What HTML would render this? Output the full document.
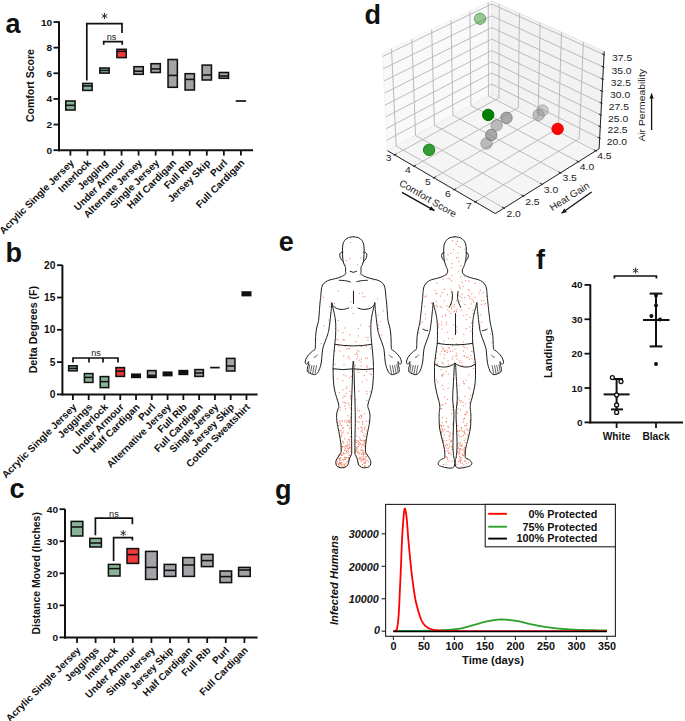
<!DOCTYPE html>
<html><head><meta charset="utf-8"><style>
html,body{margin:0;padding:0;background:#fff;}
svg{display:block;font-family:"Liberation Sans", sans-serif;}
</style></head><body>
<svg width="685" height="721" viewBox="0 0 685 721">
<rect width="685" height="721" fill="#fff"/>
<text x="5.5" y="33.2" font-size="27" font-weight="bold" text-anchor="start" fill="#111">a</text>
<line x1="59" y1="21.2" x2="59" y2="151.2" stroke="#111" stroke-width="2"/>
<line x1="58" y1="150.2" x2="253" y2="150.2" stroke="#111" stroke-width="2"/>
<line x1="53.5" y1="150.2" x2="59" y2="150.2" stroke="#111" stroke-width="1.8"/>
<text x="0" y="0" font-size="9.8" font-weight="bold" text-anchor="end" fill="#111" transform="translate(52.2 153.7) scale(1.03 1)">0</text>
<line x1="53.5" y1="124.56" x2="59" y2="124.56" stroke="#111" stroke-width="1.8"/>
<text x="0" y="0" font-size="9.8" font-weight="bold" text-anchor="end" fill="#111" transform="translate(52.2 128.06) scale(1.03 1)">2</text>
<line x1="53.5" y1="98.92" x2="59" y2="98.92" stroke="#111" stroke-width="1.8"/>
<text x="0" y="0" font-size="9.8" font-weight="bold" text-anchor="end" fill="#111" transform="translate(52.2 102.42) scale(1.03 1)">4</text>
<line x1="53.5" y1="73.28" x2="59" y2="73.28" stroke="#111" stroke-width="1.8"/>
<text x="0" y="0" font-size="9.8" font-weight="bold" text-anchor="end" fill="#111" transform="translate(52.2 76.78) scale(1.03 1)">6</text>
<line x1="53.5" y1="47.64" x2="59" y2="47.64" stroke="#111" stroke-width="1.8"/>
<text x="0" y="0" font-size="9.8" font-weight="bold" text-anchor="end" fill="#111" transform="translate(52.2 51.14) scale(1.03 1)">8</text>
<line x1="53.5" y1="22" x2="59" y2="22" stroke="#111" stroke-width="1.8"/>
<text x="0" y="0" font-size="9.8" font-weight="bold" text-anchor="end" fill="#111" transform="translate(52.2 25.5) scale(1.03 1)">10</text>
<text x="33.6" y="85.6" font-size="10.5" font-weight="bold" text-anchor="middle" fill="#111" transform="rotate(-90 33.6 85.6)">Comfort Score</text>
<line x1="70.4" y1="150" x2="70.4" y2="155.6" stroke="#111" stroke-width="1.8"/>
<text x="74.6" y="163.5" font-size="10" font-weight="bold" text-anchor="end" fill="#111" transform="rotate(-45 74.6 163.5)">Acrylic Single Jersey</text>
<line x1="87.45" y1="150" x2="87.45" y2="155.6" stroke="#111" stroke-width="1.8"/>
<text x="91.65" y="163.5" font-size="10" font-weight="bold" text-anchor="end" fill="#111" transform="rotate(-45 91.65 163.5)">Interlock</text>
<line x1="104.5" y1="150" x2="104.5" y2="155.6" stroke="#111" stroke-width="1.8"/>
<text x="108.7" y="163.5" font-size="10" font-weight="bold" text-anchor="end" fill="#111" transform="rotate(-45 108.7 163.5)">Jegging</text>
<line x1="121.55" y1="150" x2="121.55" y2="155.6" stroke="#111" stroke-width="1.8"/>
<text x="125.75" y="163.5" font-size="10" font-weight="bold" text-anchor="end" fill="#111" transform="rotate(-45 125.75 163.5)">Under Armour</text>
<line x1="138.6" y1="150" x2="138.6" y2="155.6" stroke="#111" stroke-width="1.8"/>
<text x="142.8" y="163.5" font-size="10" font-weight="bold" text-anchor="end" fill="#111" transform="rotate(-45 142.8 163.5)">Alternate Jersey</text>
<line x1="155.65" y1="150" x2="155.65" y2="155.6" stroke="#111" stroke-width="1.8"/>
<text x="159.85" y="163.5" font-size="10" font-weight="bold" text-anchor="end" fill="#111" transform="rotate(-45 159.85 163.5)">Single Jersey</text>
<line x1="172.7" y1="150" x2="172.7" y2="155.6" stroke="#111" stroke-width="1.8"/>
<text x="176.9" y="163.5" font-size="10" font-weight="bold" text-anchor="end" fill="#111" transform="rotate(-45 176.9 163.5)">Half Cardigan</text>
<line x1="189.75" y1="150" x2="189.75" y2="155.6" stroke="#111" stroke-width="1.8"/>
<text x="193.95" y="163.5" font-size="10" font-weight="bold" text-anchor="end" fill="#111" transform="rotate(-45 193.95 163.5)">Full Rib</text>
<line x1="206.8" y1="150" x2="206.8" y2="155.6" stroke="#111" stroke-width="1.8"/>
<text x="211" y="163.5" font-size="10" font-weight="bold" text-anchor="end" fill="#111" transform="rotate(-45 211 163.5)">Jersey Skip</text>
<line x1="223.85" y1="150" x2="223.85" y2="155.6" stroke="#111" stroke-width="1.8"/>
<text x="228.05" y="163.5" font-size="10" font-weight="bold" text-anchor="end" fill="#111" transform="rotate(-45 228.05 163.5)">Purl</text>
<line x1="240.9" y1="150" x2="240.9" y2="155.6" stroke="#111" stroke-width="1.8"/>
<text x="245.1" y="163.5" font-size="10" font-weight="bold" text-anchor="end" fill="#111" transform="rotate(-45 245.1 163.5)">Full Cardigan</text>
<rect x="65.75" y="101" width="9.3" height="9" fill="#89b396" stroke="#111" stroke-width="1.55"/>
<line x1="65.75" y1="105.3" x2="75.05" y2="105.3" stroke="#111" stroke-width="1.55"/>
<rect x="82.8" y="83.4" width="9.3" height="7" fill="#89b396" stroke="#111" stroke-width="1.55"/>
<line x1="82.8" y1="85.9" x2="92.1" y2="85.9" stroke="#111" stroke-width="1.55"/>
<rect x="99.85" y="68" width="9.3" height="5.1" fill="#89b396" stroke="#111" stroke-width="1.55"/>
<line x1="99.85" y1="70.4" x2="109.15" y2="70.4" stroke="#111" stroke-width="1.55"/>
<rect x="116.9" y="49.3" width="9.3" height="8.3" fill="#f33a3a" stroke="#111" stroke-width="1.55"/>
<line x1="116.9" y1="51.4" x2="126.2" y2="51.4" stroke="#111" stroke-width="1.55"/>
<rect x="133.95" y="66.7" width="9.3" height="7.6" fill="#a3a3a8" stroke="#111" stroke-width="1.55"/>
<line x1="133.95" y1="71.2" x2="143.25" y2="71.2" stroke="#111" stroke-width="1.55"/>
<rect x="151" y="63.7" width="9.3" height="8.8" fill="#a3a3a8" stroke="#111" stroke-width="1.55"/>
<line x1="151" y1="68.9" x2="160.3" y2="68.9" stroke="#111" stroke-width="1.55"/>
<rect x="168.05" y="59.5" width="9.3" height="27.8" fill="#a3a3a8" stroke="#111" stroke-width="1.55"/>
<line x1="168.05" y1="75.4" x2="177.35" y2="75.4" stroke="#111" stroke-width="1.55"/>
<rect x="185.1" y="73.7" width="9.3" height="16.3" fill="#a3a3a8" stroke="#111" stroke-width="1.55"/>
<line x1="185.1" y1="79.4" x2="194.4" y2="79.4" stroke="#111" stroke-width="1.55"/>
<rect x="202.15" y="65.1" width="9.3" height="14.9" fill="#a3a3a8" stroke="#111" stroke-width="1.55"/>
<line x1="202.15" y1="75" x2="211.45" y2="75" stroke="#111" stroke-width="1.55"/>
<rect x="219.2" y="72.5" width="9.3" height="5.8" fill="#a3a3a8" stroke="#111" stroke-width="1.55"/>
<line x1="219.2" y1="76" x2="228.5" y2="76" stroke="#111" stroke-width="1.55"/>
<line x1="235.7" y1="101" x2="246.1" y2="101" stroke="#111" stroke-width="1.7"/>
<polyline points="86.8,80.5 86.8,23.6 122,23.6 122,33" fill="none" stroke="#111" stroke-width="1.7"/>
<path d="M104.5,12.9L104.5,19.1M101.82,14.45L107.18,17.55M101.82,17.55L107.18,14.45" stroke="#333" stroke-width="1" fill="none"/>
<polyline points="103.7,44.7 103.7,41.6 122.2,41.6 122.2,44.7" fill="none" stroke="#111" stroke-width="1.7"/>
<text x="111.6" y="40" font-size="9.2" font-weight="normal" text-anchor="middle" fill="#222">ns</text>
<text x="5.5" y="262" font-size="27" font-weight="bold" text-anchor="start" fill="#111">b</text>
<line x1="62.4" y1="265" x2="62.4" y2="395.4" stroke="#111" stroke-width="2"/>
<line x1="61.4" y1="394.4" x2="257.6" y2="394.4" stroke="#111" stroke-width="2"/>
<line x1="57" y1="394.4" x2="62.4" y2="394.4" stroke="#111" stroke-width="1.8"/>
<text x="0" y="0" font-size="10" font-weight="bold" text-anchor="end" fill="#111" transform="translate(55.4 398) scale(1.02 1)">0</text>
<line x1="57" y1="362.1" x2="62.4" y2="362.1" stroke="#111" stroke-width="1.8"/>
<text x="0" y="0" font-size="10" font-weight="bold" text-anchor="end" fill="#111" transform="translate(55.4 365.7) scale(1.02 1)">5</text>
<line x1="57" y1="329.8" x2="62.4" y2="329.8" stroke="#111" stroke-width="1.8"/>
<text x="0" y="0" font-size="10" font-weight="bold" text-anchor="end" fill="#111" transform="translate(55.4 333.4) scale(1.02 1)">10</text>
<line x1="57" y1="297.5" x2="62.4" y2="297.5" stroke="#111" stroke-width="1.8"/>
<text x="0" y="0" font-size="10" font-weight="bold" text-anchor="end" fill="#111" transform="translate(55.4 301.1) scale(1.02 1)">15</text>
<line x1="57" y1="265.2" x2="62.4" y2="265.2" stroke="#111" stroke-width="1.8"/>
<text x="0" y="0" font-size="10" font-weight="bold" text-anchor="end" fill="#111" transform="translate(55.4 268.8) scale(1.02 1)">20</text>
<text x="37.5" y="329.6" font-size="10.65" font-weight="bold" text-anchor="middle" fill="#111" transform="rotate(-90 37.5 329.6)">Delta Degrees (F)</text>
<line x1="72.9" y1="394" x2="72.9" y2="400" stroke="#111" stroke-width="1.8"/>
<text x="77.1" y="407.6" font-size="10" font-weight="bold" text-anchor="end" fill="#111" transform="rotate(-45 77.1 407.6)">Acrylic Single Jersey</text>
<line x1="88.68" y1="394" x2="88.68" y2="400" stroke="#111" stroke-width="1.8"/>
<text x="92.88" y="407.6" font-size="10" font-weight="bold" text-anchor="end" fill="#111" transform="rotate(-45 92.88 407.6)">Jeggings</text>
<line x1="104.46" y1="394" x2="104.46" y2="400" stroke="#111" stroke-width="1.8"/>
<text x="108.66" y="407.6" font-size="10" font-weight="bold" text-anchor="end" fill="#111" transform="rotate(-45 108.66 407.6)">Interlock</text>
<line x1="120.24" y1="394" x2="120.24" y2="400" stroke="#111" stroke-width="1.8"/>
<text x="124.44" y="407.6" font-size="10" font-weight="bold" text-anchor="end" fill="#111" transform="rotate(-45 124.44 407.6)">Under Armour</text>
<line x1="136.02" y1="394" x2="136.02" y2="400" stroke="#111" stroke-width="1.8"/>
<text x="140.22" y="407.6" font-size="10" font-weight="bold" text-anchor="end" fill="#111" transform="rotate(-45 140.22 407.6)">Half Cardigan</text>
<line x1="151.8" y1="394" x2="151.8" y2="400" stroke="#111" stroke-width="1.8"/>
<text x="156" y="407.6" font-size="10" font-weight="bold" text-anchor="end" fill="#111" transform="rotate(-45 156 407.6)">Purl</text>
<line x1="167.58" y1="394" x2="167.58" y2="400" stroke="#111" stroke-width="1.8"/>
<text x="171.78" y="407.6" font-size="10" font-weight="bold" text-anchor="end" fill="#111" transform="rotate(-45 171.78 407.6)">Alternative Jersey</text>
<line x1="183.36" y1="394" x2="183.36" y2="400" stroke="#111" stroke-width="1.8"/>
<text x="187.56" y="407.6" font-size="10" font-weight="bold" text-anchor="end" fill="#111" transform="rotate(-45 187.56 407.6)">Full Rib</text>
<line x1="199.14" y1="394" x2="199.14" y2="400" stroke="#111" stroke-width="1.8"/>
<text x="203.34" y="407.6" font-size="10" font-weight="bold" text-anchor="end" fill="#111" transform="rotate(-45 203.34 407.6)">Full Cardigan</text>
<line x1="214.92" y1="394" x2="214.92" y2="400" stroke="#111" stroke-width="1.8"/>
<text x="219.12" y="407.6" font-size="10" font-weight="bold" text-anchor="end" fill="#111" transform="rotate(-45 219.12 407.6)">Single Jersey</text>
<line x1="230.7" y1="394" x2="230.7" y2="400" stroke="#111" stroke-width="1.8"/>
<text x="234.9" y="407.6" font-size="10" font-weight="bold" text-anchor="end" fill="#111" transform="rotate(-45 234.9 407.6)">Jersey Skip</text>
<line x1="246.48" y1="394" x2="246.48" y2="400" stroke="#111" stroke-width="1.8"/>
<text x="250.68" y="407.6" font-size="10" font-weight="bold" text-anchor="end" fill="#111" transform="rotate(-45 250.68 407.6)">Cotton Sweatshirt</text>
<rect x="68.65" y="365.8" width="8.5" height="5" fill="#89b396" stroke="#111" stroke-width="1.55"/>
<line x1="68.65" y1="368.4" x2="77.15" y2="368.4" stroke="#111" stroke-width="1.55"/>
<rect x="84.43" y="373.6" width="8.5" height="8.8" fill="#89b396" stroke="#111" stroke-width="1.55"/>
<line x1="84.43" y1="377.4" x2="92.93" y2="377.4" stroke="#111" stroke-width="1.55"/>
<rect x="100.21" y="376.6" width="8.5" height="11" fill="#89b396" stroke="#111" stroke-width="1.55"/>
<line x1="100.21" y1="381.6" x2="108.71" y2="381.6" stroke="#111" stroke-width="1.55"/>
<rect x="115.99" y="367.6" width="8.5" height="8.8" fill="#f33a3a" stroke="#111" stroke-width="1.55"/>
<line x1="115.99" y1="371.2" x2="124.49" y2="371.2" stroke="#111" stroke-width="1.55"/>
<rect x="131.77" y="374.2" width="8.5" height="3.2" fill="#111" stroke="#111" stroke-width="1.55"/>
<rect x="147.55" y="370.6" width="8.5" height="6.8" fill="#a3a3a8" stroke="#111" stroke-width="1.55"/>
<line x1="147.55" y1="375.4" x2="156.05" y2="375.4" stroke="#111" stroke-width="1.55"/>
<line x1="147.55" y1="376.2" x2="156.05" y2="376.2" stroke="#111" stroke-width="2.2"/>
<rect x="163.33" y="372.2" width="8.5" height="3.4" fill="#111" stroke="#111" stroke-width="1.55"/>
<rect x="179.11" y="370.6" width="8.5" height="3.8" fill="#111" stroke="#111" stroke-width="1.55"/>
<rect x="194.89" y="369.6" width="8.5" height="6.8" fill="#a3a3a8" stroke="#111" stroke-width="1.55"/>
<line x1="194.89" y1="373" x2="203.39" y2="373" stroke="#111" stroke-width="1.55"/>
<rect x="226.45" y="358.4" width="8.5" height="12.6" fill="#a3a3a8" stroke="#111" stroke-width="1.55"/>
<line x1="226.45" y1="366" x2="234.95" y2="366" stroke="#111" stroke-width="1.55"/>
<rect x="242.23" y="292" width="8.5" height="3.6" fill="#111" stroke="#111" stroke-width="1.55"/>
<line x1="210.12" y1="367.6" x2="219.72" y2="367.6" stroke="#111" stroke-width="1.7"/>
<polyline points="73,362.6 73,358 118,358 118,362.6" fill="none" stroke="#111" stroke-width="1.7"/>
<line x1="89" y1="358" x2="89" y2="362.6" stroke="#111" stroke-width="1.7"/>
<line x1="103" y1="358" x2="103" y2="362.6" stroke="#111" stroke-width="1.7"/>
<text x="96" y="356" font-size="9.2" font-weight="normal" text-anchor="middle" fill="#222">ns</text>
<text x="9.5" y="498" font-size="27" font-weight="bold" text-anchor="start" fill="#111">c</text>
<line x1="65" y1="509" x2="65" y2="638.4" stroke="#111" stroke-width="2"/>
<line x1="64" y1="637.4" x2="257.6" y2="637.4" stroke="#111" stroke-width="2"/>
<line x1="59.5" y1="637.4" x2="65" y2="637.4" stroke="#111" stroke-width="1.8"/>
<text x="0" y="0" font-size="9.8" font-weight="bold" text-anchor="end" fill="#111" transform="translate(58 640.9) scale(1.03 1)">0</text>
<line x1="59.5" y1="605.35" x2="65" y2="605.35" stroke="#111" stroke-width="1.8"/>
<text x="0" y="0" font-size="9.8" font-weight="bold" text-anchor="end" fill="#111" transform="translate(58 608.85) scale(1.03 1)">10</text>
<line x1="59.5" y1="573.3" x2="65" y2="573.3" stroke="#111" stroke-width="1.8"/>
<text x="0" y="0" font-size="9.8" font-weight="bold" text-anchor="end" fill="#111" transform="translate(58 576.8) scale(1.03 1)">20</text>
<line x1="59.5" y1="541.25" x2="65" y2="541.25" stroke="#111" stroke-width="1.8"/>
<text x="0" y="0" font-size="9.8" font-weight="bold" text-anchor="end" fill="#111" transform="translate(58 544.75) scale(1.03 1)">30</text>
<line x1="59.5" y1="509.2" x2="65" y2="509.2" stroke="#111" stroke-width="1.8"/>
<text x="0" y="0" font-size="9.8" font-weight="bold" text-anchor="end" fill="#111" transform="translate(58 512.7) scale(1.03 1)">40</text>
<text x="39.8" y="573.3" font-size="10.45" font-weight="bold" text-anchor="middle" fill="#111" transform="rotate(-90 39.8 573.3)">Distance Moved (Inches)</text>
<line x1="77" y1="637" x2="77" y2="643" stroke="#111" stroke-width="1.8"/>
<text x="81.2" y="651" font-size="10" font-weight="bold" text-anchor="end" fill="#111" transform="rotate(-45 81.2 651)">Acrylic Single Jersey</text>
<line x1="95.6" y1="637" x2="95.6" y2="643" stroke="#111" stroke-width="1.8"/>
<text x="99.8" y="651" font-size="10" font-weight="bold" text-anchor="end" fill="#111" transform="rotate(-45 99.8 651)">Jeggings</text>
<line x1="114.2" y1="637" x2="114.2" y2="643" stroke="#111" stroke-width="1.8"/>
<text x="118.4" y="651" font-size="10" font-weight="bold" text-anchor="end" fill="#111" transform="rotate(-45 118.4 651)">Interlock</text>
<line x1="132.8" y1="637" x2="132.8" y2="643" stroke="#111" stroke-width="1.8"/>
<text x="137" y="651" font-size="10" font-weight="bold" text-anchor="end" fill="#111" transform="rotate(-45 137 651)">Under Armour</text>
<line x1="151.4" y1="637" x2="151.4" y2="643" stroke="#111" stroke-width="1.8"/>
<text x="155.6" y="651" font-size="10" font-weight="bold" text-anchor="end" fill="#111" transform="rotate(-45 155.6 651)">Single Jersey</text>
<line x1="170" y1="637" x2="170" y2="643" stroke="#111" stroke-width="1.8"/>
<text x="174.2" y="651" font-size="10" font-weight="bold" text-anchor="end" fill="#111" transform="rotate(-45 174.2 651)">Jersey Skip</text>
<line x1="188.6" y1="637" x2="188.6" y2="643" stroke="#111" stroke-width="1.8"/>
<text x="192.8" y="651" font-size="10" font-weight="bold" text-anchor="end" fill="#111" transform="rotate(-45 192.8 651)">Half Cardigan</text>
<line x1="207.2" y1="637" x2="207.2" y2="643" stroke="#111" stroke-width="1.8"/>
<text x="211.4" y="651" font-size="10" font-weight="bold" text-anchor="end" fill="#111" transform="rotate(-45 211.4 651)">Full Rib</text>
<line x1="225.8" y1="637" x2="225.8" y2="643" stroke="#111" stroke-width="1.8"/>
<text x="230" y="651" font-size="10" font-weight="bold" text-anchor="end" fill="#111" transform="rotate(-45 230 651)">Purl</text>
<line x1="244.4" y1="637" x2="244.4" y2="643" stroke="#111" stroke-width="1.8"/>
<text x="248.6" y="651" font-size="10" font-weight="bold" text-anchor="end" fill="#111" transform="rotate(-45 248.6 651)">Full Cardigan</text>
<rect x="71.2" y="521.4" width="11.6" height="14.6" fill="#89b396" stroke="#111" stroke-width="1.55"/>
<line x1="71.2" y1="527" x2="82.8" y2="527" stroke="#111" stroke-width="1.55"/>
<rect x="89.8" y="538.4" width="11.6" height="8.6" fill="#89b396" stroke="#111" stroke-width="1.55"/>
<line x1="89.8" y1="543" x2="101.4" y2="543" stroke="#111" stroke-width="1.55"/>
<rect x="108.4" y="564.4" width="11.6" height="11.6" fill="#89b396" stroke="#111" stroke-width="1.55"/>
<line x1="108.4" y1="568.6" x2="120" y2="568.6" stroke="#111" stroke-width="1.55"/>
<rect x="127" y="548.6" width="11.6" height="14.8" fill="#f33a3a" stroke="#111" stroke-width="1.55"/>
<line x1="127" y1="554.6" x2="138.6" y2="554.6" stroke="#111" stroke-width="1.55"/>
<rect x="145.6" y="551.4" width="11.6" height="28" fill="#a3a3a8" stroke="#111" stroke-width="1.55"/>
<line x1="145.6" y1="567.4" x2="157.2" y2="567.4" stroke="#111" stroke-width="1.55"/>
<rect x="164.2" y="564.4" width="11.6" height="12" fill="#a3a3a8" stroke="#111" stroke-width="1.55"/>
<line x1="164.2" y1="570.4" x2="175.8" y2="570.4" stroke="#111" stroke-width="1.55"/>
<rect x="182.8" y="557.6" width="11.6" height="18.8" fill="#a3a3a8" stroke="#111" stroke-width="1.55"/>
<line x1="182.8" y1="565" x2="194.4" y2="565" stroke="#111" stroke-width="1.55"/>
<rect x="201.4" y="554.4" width="11.6" height="12.2" fill="#a3a3a8" stroke="#111" stroke-width="1.55"/>
<line x1="201.4" y1="560.6" x2="213" y2="560.6" stroke="#111" stroke-width="1.55"/>
<rect x="220" y="571" width="11.6" height="11.6" fill="#a3a3a8" stroke="#111" stroke-width="1.55"/>
<line x1="220" y1="576.6" x2="231.6" y2="576.6" stroke="#111" stroke-width="1.55"/>
<rect x="238.6" y="567.4" width="11.6" height="9" fill="#a3a3a8" stroke="#111" stroke-width="1.55"/>
<line x1="238.6" y1="570" x2="250.2" y2="570" stroke="#111" stroke-width="1.55"/>
<polyline points="95.4,535.2 95.4,518.1 132.4,518.1 132.4,524.2" fill="none" stroke="#111" stroke-width="1.7"/>
<text x="113.9" y="517.2" font-size="9.2" font-weight="normal" text-anchor="middle" fill="#222">ns</text>
<polyline points="113.6,561 113.6,537.6 132.4,537.6 132.4,540.4" fill="none" stroke="#111" stroke-width="1.7"/>
<path d="M123.2,530.1L123.2,536.3M120.52,531.65L125.88,534.75M120.52,534.75L125.88,531.65" stroke="#333" stroke-width="1" fill="none"/>
<text x="364.5" y="24.2" font-size="27" font-weight="bold" text-anchor="start" fill="#111">d</text>
<polygon points="387.48,150.71 491.8,94.24 491.73,0.87 382.34,53.13" fill="#f9f9f9" stroke="#f2f2f2" stroke-width="1"/>
<polygon points="491.8,94.24 599.1,148.77 604.22,51.33 491.73,0.87" fill="#f2f2f2" stroke="#e6e6e6" stroke-width="1"/>
<polygon points="387.48,150.71 495.27,213.56 599.1,148.77 491.8,94.24" fill="#f5f5f5" stroke="#ececec" stroke-width="1"/>
<polyline points="394.63,154.88 498.95,97.88 499.21,4.23" fill="none" stroke="#b4b4b4" stroke-width="0.9"/>
<polyline points="413.99,166.17 518.29,107.7 519.43,13.3" fill="none" stroke="#b4b4b4" stroke-width="0.9"/>
<polyline points="433.86,177.76 538.1,117.77 540.18,22.61" fill="none" stroke="#b4b4b4" stroke-width="0.9"/>
<polyline points="454.28,189.66 558.42,128.1 561.49,32.16" fill="none" stroke="#b4b4b4" stroke-width="0.9"/>
<polyline points="475.25,201.89 579.25,138.69 583.36,41.97" fill="none" stroke="#b4b4b4" stroke-width="0.9"/>
<polyline points="503.96,208.14 396.17,146 391.49,48.76" fill="none" stroke="#b4b4b4" stroke-width="0.9"/>
<polyline points="523.31,196.07 415.55,135.52 411.84,39.04" fill="none" stroke="#b4b4b4" stroke-width="0.9"/>
<polyline points="542.15,184.31 434.45,125.28 431.68,29.56" fill="none" stroke="#b4b4b4" stroke-width="0.9"/>
<polyline points="560.5,172.86 452.89,115.3 451.02,20.32" fill="none" stroke="#b4b4b4" stroke-width="0.9"/>
<polyline points="578.38,161.7 470.9,105.55 469.87,11.31" fill="none" stroke="#b4b4b4" stroke-width="0.9"/>
<polyline points="595.82,150.83 488.48,96.04 488.26,2.53" fill="none" stroke="#b4b4b4" stroke-width="0.9"/>
<polyline points="386.92,140.14 491.79,84.1 599.66,138.22" fill="none" stroke="#b4b4b4" stroke-width="0.9"/>
<polyline points="386.31,128.6 491.78,73.03 600.26,126.69" fill="none" stroke="#b4b4b4" stroke-width="0.9"/>
<polyline points="385.7,116.92 491.77,61.84 600.87,115.03" fill="none" stroke="#b4b4b4" stroke-width="0.9"/>
<polyline points="385.08,105.11 491.76,50.54 601.49,103.24" fill="none" stroke="#b4b4b4" stroke-width="0.9"/>
<polyline points="384.45,93.16 491.76,39.1 602.12,91.31" fill="none" stroke="#b4b4b4" stroke-width="0.9"/>
<polyline points="383.81,81.08 491.75,27.55 602.75,79.24" fill="none" stroke="#b4b4b4" stroke-width="0.9"/>
<polyline points="383.17,68.85 491.74,15.87 603.39,67.02" fill="none" stroke="#b4b4b4" stroke-width="0.9"/>
<polyline points="382.52,56.47 491.73,4.06 604.04,54.67" fill="none" stroke="#b4b4b4" stroke-width="0.9"/>
<polyline points="387.48,150.71 495.27,213.56 599.1,148.77 604.22,51.33" fill="none" stroke="#222" stroke-width="1"/>
<polyline points="393.7,155.39 396.5,153.87" fill="none" stroke="#222" stroke-width="1"/>
<polyline points="413.06,166.69 415.85,165.13" fill="none" stroke="#222" stroke-width="1"/>
<polyline points="432.93,178.3 435.73,176.69" fill="none" stroke="#222" stroke-width="1"/>
<polyline points="453.34,190.21 456.14,188.56" fill="none" stroke="#222" stroke-width="1"/>
<polyline points="474.32,202.46 477.11,200.76" fill="none" stroke="#222" stroke-width="1"/>
<polyline points="504.93,208.69 502.04,207.03" fill="none" stroke="#222" stroke-width="1"/>
<polyline points="524.27,196.61 521.38,194.99" fill="none" stroke="#222" stroke-width="1"/>
<polyline points="543.11,184.84 540.23,183.26" fill="none" stroke="#222" stroke-width="1"/>
<polyline points="561.46,173.37 558.58,171.84" fill="none" stroke="#222" stroke-width="1"/>
<polyline points="579.34,162.2 576.47,160.7" fill="none" stroke="#222" stroke-width="1"/>
<polyline points="596.77,151.31 593.91,149.85" fill="none" stroke="#222" stroke-width="1"/>
<polyline points="600.62,138.7 597.74,137.26" fill="none" stroke="#222" stroke-width="1"/>
<polyline points="601.23,127.17 598.33,125.74" fill="none" stroke="#222" stroke-width="1"/>
<polyline points="601.85,115.51 598.93,114.09" fill="none" stroke="#222" stroke-width="1"/>
<polyline points="602.47,103.71 599.54,102.3" fill="none" stroke="#222" stroke-width="1"/>
<polyline points="603.1,91.77 600.15,90.38" fill="none" stroke="#222" stroke-width="1"/>
<polyline points="603.74,79.7 600.77,78.32" fill="none" stroke="#222" stroke-width="1"/>
<polyline points="604.39,67.48 601.4,66.11" fill="none" stroke="#222" stroke-width="1"/>
<polyline points="605.05,55.12 602.04,53.77" fill="none" stroke="#222" stroke-width="1"/>
<text x="0" y="0" font-size="9.7" font-weight="normal" text-anchor="middle" fill="#222" transform="translate(388.6 161.3) scale(1.07 1)">3</text>
<text x="0" y="0" font-size="9.7" font-weight="normal" text-anchor="middle" fill="#222" transform="translate(408 172.8) scale(1.07 1)">4</text>
<text x="0" y="0" font-size="9.7" font-weight="normal" text-anchor="middle" fill="#222" transform="translate(428 184.8) scale(1.07 1)">5</text>
<text x="0" y="0" font-size="9.7" font-weight="normal" text-anchor="middle" fill="#222" transform="translate(448 196.8) scale(1.07 1)">6</text>
<text x="0" y="0" font-size="9.7" font-weight="normal" text-anchor="middle" fill="#222" transform="translate(469 208.8) scale(1.07 1)">7</text>
<text x="0" y="0" font-size="9.7" font-weight="normal" text-anchor="middle" fill="#222" transform="translate(513.6 216.9) scale(1.07 1)">2.0</text>
<text x="0" y="0" font-size="9.7" font-weight="normal" text-anchor="middle" fill="#222" transform="translate(532.4 205.3) scale(1.07 1)">2.5</text>
<text x="0" y="0" font-size="9.7" font-weight="normal" text-anchor="middle" fill="#222" transform="translate(551 193.3) scale(1.07 1)">3.0</text>
<text x="0" y="0" font-size="9.7" font-weight="normal" text-anchor="middle" fill="#222" transform="translate(569.6 181.3) scale(1.07 1)">3.5</text>
<text x="0" y="0" font-size="9.7" font-weight="normal" text-anchor="middle" fill="#222" transform="translate(587 169.9) scale(1.07 1)">4.0</text>
<text x="0" y="0" font-size="9.7" font-weight="normal" text-anchor="middle" fill="#222" transform="translate(604.4 158.7) scale(1.07 1)">4.5</text>
<text x="0" y="0" font-size="9.7" font-weight="normal" text-anchor="start" fill="#222" transform="translate(612 61.3) scale(1.07 1)">37.5</text>
<text x="0" y="0" font-size="9.7" font-weight="normal" text-anchor="start" fill="#222" transform="translate(611.4 73.9) scale(1.07 1)">35.0</text>
<text x="0" y="0" font-size="9.7" font-weight="normal" text-anchor="start" fill="#222" transform="translate(610.8 85.9) scale(1.07 1)">32.5</text>
<text x="0" y="0" font-size="9.7" font-weight="normal" text-anchor="start" fill="#222" transform="translate(610 97.9) scale(1.07 1)">30.0</text>
<text x="0" y="0" font-size="9.7" font-weight="normal" text-anchor="start" fill="#222" transform="translate(608.8 109.9) scale(1.07 1)">27.5</text>
<text x="0" y="0" font-size="9.7" font-weight="normal" text-anchor="start" fill="#222" transform="translate(608 121.9) scale(1.07 1)">25.0</text>
<text x="0" y="0" font-size="9.7" font-weight="normal" text-anchor="start" fill="#222" transform="translate(607.4 133.3) scale(1.07 1)">22.5</text>
<text x="0" y="0" font-size="9.7" font-weight="normal" text-anchor="start" fill="#222" transform="translate(606.8 144.9) scale(1.07 1)">20.0</text>
<text x="0" y="0" font-size="9.7" font-weight="normal" text-anchor="middle" fill="#222" transform="translate(426.3 201.2) rotate(30.4) scale(1.03 1)">Comfort Score</text>
<text x="0" y="0" font-size="9.7" font-weight="normal" text-anchor="middle" fill="#222" transform="translate(571.2 199.3) rotate(-32.5) scale(1.03 1)">Heat Gain</text>
<text x="0" y="0" font-size="9.7" font-weight="normal" text-anchor="middle" fill="#222" transform="translate(644.8 105.3) rotate(-90) scale(1.07 1)">Air Permeability</text>
<line x1="402" y1="192.4" x2="434.5" y2="210.6" stroke="#111" stroke-width="1.3"/>
<polygon points="434.5,210.6 429.06,210.08 431.21,206.24" fill="#111" stroke="none" stroke-width="1"/>
<line x1="591.6" y1="192" x2="561.5" y2="213.3" stroke="#111" stroke-width="1.3"/>
<polygon points="561.5,213.3 564.31,208.62 566.85,212.21" fill="#111" stroke="none" stroke-width="1"/>
<line x1="651.6" y1="130" x2="651.6" y2="93.5" stroke="#111" stroke-width="1.3"/>
<polygon points="651.6,93.5 653.8,98.5 649.4,98.5" fill="#111" stroke="none" stroke-width="1"/>
<circle cx="480.05" cy="18.8" r="5.7" fill="#008000" fill-opacity="0.4" stroke="#008000" stroke-opacity="0.5" stroke-width="1"/>
<circle cx="542.6" cy="110.5" r="5.7" fill="#808080" fill-opacity="0.35" stroke="#808080" stroke-opacity="0.45" stroke-width="1"/>
<circle cx="538.6" cy="114.9" r="5.7" fill="#808080" fill-opacity="0.45" stroke="#808080" stroke-opacity="0.55" stroke-width="1"/>
<circle cx="506.5" cy="117.8" r="5.7" fill="#808080" fill-opacity="0.65" stroke="#707070" stroke-opacity="0.75" stroke-width="1"/>
<circle cx="488.2" cy="114.9" r="5.7" fill="#008000" fill-opacity="1.0" stroke="#007000" stroke-opacity="1.0" stroke-width="1"/>
<circle cx="496.6" cy="125.3" r="5.7" fill="#808080" fill-opacity="0.5" stroke="#808080" stroke-opacity="0.6" stroke-width="1"/>
<circle cx="491.2" cy="135" r="5.7" fill="#808080" fill-opacity="0.65" stroke="#707070" stroke-opacity="0.75" stroke-width="1"/>
<circle cx="486.5" cy="143.5" r="5.7" fill="#808080" fill-opacity="0.5" stroke="#808080" stroke-opacity="0.6" stroke-width="1"/>
<circle cx="557.6" cy="128.9" r="5.7" fill="#ff0000" fill-opacity="1.0" stroke="#ee0000" stroke-opacity="1.0" stroke-width="1"/>
<circle cx="429.1" cy="149.9" r="5.7" fill="#008000" fill-opacity="0.78" stroke="#008000" stroke-opacity="0.85" stroke-width="1"/>
<text x="278.7" y="250.8" font-size="27" font-weight="bold" text-anchor="start" fill="#111">e</text>
<rect x="350.25" y="242.08" width="1" height="1" fill="#f0704f"/>
<rect x="349.38" y="258.21" width="1" height="1" fill="#f0704f"/>
<rect x="360.41" y="257.7" width="1" height="1" fill="#f0704f"/>
<rect x="345.8" y="260" width="1" height="1" fill="#f0704f"/>
<rect x="345.23" y="264.39" width="1" height="1" fill="#f0704f"/>
<rect x="356.89" y="264.31" width="1" height="1" fill="#f0704f"/>
<rect x="359.67" y="274.23" width="1" height="1" fill="#f0704f"/>
<rect x="373.2" y="279.24" width="1" height="1" fill="#f0704f"/>
<rect x="349.78" y="282.12" width="1" height="1" fill="#f0704f"/>
<rect x="337.64" y="290.65" width="1" height="1" fill="#f0704f"/>
<rect x="358.87" y="293.04" width="1" height="1" fill="#f0704f"/>
<rect x="361.81" y="292.51" width="1" height="1" fill="#f0704f"/>
<rect x="352.59" y="295.61" width="1" height="1" fill="#f0704f"/>
<rect x="362.41" y="296.45" width="1" height="1" fill="#f0704f"/>
<rect x="364.65" y="296.06" width="1" height="1" fill="#f0704f"/>
<rect x="322.82" y="296.81" width="1" height="1" fill="#f0704f"/>
<rect x="377.02" y="298.52" width="1" height="1" fill="#f0704f"/>
<rect x="350.13" y="301.2" width="1" height="1" fill="#f0704f"/>
<rect x="333.85" y="302.99" width="1" height="1" fill="#f0704f"/>
<rect x="329.26" y="306.05" width="1" height="1" fill="#f0704f"/>
<rect x="351.39" y="307.23" width="1" height="1" fill="#f0704f"/>
<rect x="365.74" y="307.92" width="1" height="1" fill="#f0704f"/>
<rect x="382.74" y="310.38" width="1" height="1" fill="#f0704f"/>
<rect x="352.6" y="313.03" width="1" height="1" fill="#f0704f"/>
<rect x="377.66" y="314.68" width="1" height="1" fill="#f0704f"/>
<rect x="328.31" y="319.5" width="1" height="1" fill="#f0704f"/>
<rect x="337.56" y="319.84" width="1" height="1" fill="#f0704f"/>
<rect x="379.72" y="321.24" width="1" height="1" fill="#f0704f"/>
<rect x="323.73" y="325.39" width="1" height="1" fill="#f0704f"/>
<rect x="360.18" y="324.73" width="1" height="1" fill="#f0704f"/>
<rect x="378.2" y="324.53" width="1" height="1" fill="#f0704f"/>
<rect x="368.74" y="326.04" width="1" height="1" fill="#f0704f"/>
<rect x="344.51" y="327.48" width="1" height="1" fill="#f0704f"/>
<rect x="357.84" y="328.27" width="1" height="1" fill="#f0704f"/>
<rect x="378.27" y="328.03" width="1" height="1" fill="#f0704f"/>
<rect x="337.78" y="329.9" width="1" height="1" fill="#f0704f"/>
<rect x="342.53" y="332.04" width="1" height="1" fill="#f0704f"/>
<rect x="349.45" y="334.31" width="1" height="1" fill="#f0704f"/>
<rect x="357.92" y="335.41" width="1" height="1" fill="#f0704f"/>
<rect x="381.34" y="334.58" width="1" height="1" fill="#f0704f"/>
<rect x="365.67" y="337.09" width="1" height="1" fill="#f0704f"/>
<rect x="367.59" y="336.74" width="1" height="1" fill="#f0704f"/>
<rect x="335.63" y="338.53" width="1" height="1" fill="#f0704f"/>
<rect x="337.42" y="339.22" width="1" height="1" fill="#f0704f"/>
<rect x="343.19" y="339.13" width="1" height="1" fill="#f0704f"/>
<rect x="343.6" y="339.94" width="1" height="1" fill="#f0704f"/>
<rect x="367.33" y="340" width="1" height="1" fill="#f0704f"/>
<rect x="355.45" y="341" width="1" height="1" fill="#f0704f"/>
<rect x="320.8" y="343.11" width="1" height="1" fill="#f0704f"/>
<rect x="337.93" y="345.43" width="1" height="1" fill="#f0704f"/>
<rect x="344.74" y="345.78" width="1" height="1" fill="#f0704f"/>
<rect x="361" y="346.06" width="1" height="1" fill="#f0704f"/>
<rect x="365.49" y="345.84" width="1" height="1" fill="#f0704f"/>
<rect x="347.71" y="347.94" width="1" height="1" fill="#f0704f"/>
<rect x="349.09" y="348.25" width="1" height="1" fill="#f0704f"/>
<rect x="370.13" y="347.74" width="1" height="1" fill="#f0704f"/>
<rect x="345.97" y="348.83" width="1" height="1" fill="#f0704f"/>
<rect x="356.55" y="349.81" width="1" height="1" fill="#f0704f"/>
<rect x="334.19" y="350.55" width="1" height="1" fill="#f0704f"/>
<rect x="339.66" y="350.56" width="1" height="1" fill="#f0704f"/>
<rect x="358.26" y="350.72" width="1" height="1" fill="#f0704f"/>
<rect x="356.29" y="352.55" width="1" height="1" fill="#f0704f"/>
<rect x="354.55" y="353.96" width="1" height="1" fill="#f0704f"/>
<rect x="356.82" y="353.91" width="1" height="1" fill="#f0704f"/>
<rect x="343.19" y="355.73" width="1" height="1" fill="#f0704f"/>
<rect x="348.35" y="355.9" width="1" height="1" fill="#f0704f"/>
<rect x="357.32" y="356.34" width="1" height="1" fill="#f0704f"/>
<rect x="365.01" y="357.48" width="1" height="1" fill="#f0704f"/>
<rect x="347.23" y="357.5" width="1" height="1" fill="#f0704f"/>
<rect x="349.43" y="358.32" width="1" height="1" fill="#f0704f"/>
<rect x="356.32" y="358.4" width="1" height="1" fill="#f0704f"/>
<rect x="366.85" y="357.77" width="1" height="1" fill="#f0704f"/>
<rect x="360.89" y="358.54" width="1" height="1" fill="#f0704f"/>
<rect x="358.83" y="359.69" width="1" height="1" fill="#f0704f"/>
<rect x="360.54" y="361.37" width="1" height="1" fill="#f0704f"/>
<rect x="334.64" y="363.82" width="1" height="1" fill="#f0704f"/>
<rect x="343.54" y="364.43" width="1" height="1" fill="#f0704f"/>
<rect x="354.89" y="364.89" width="1" height="1" fill="#f0704f"/>
<rect x="360.59" y="365.49" width="1" height="1" fill="#f0704f"/>
<rect x="366.1" y="365.45" width="1" height="1" fill="#f0704f"/>
<rect x="366.76" y="366.56" width="1" height="1" fill="#f0704f"/>
<rect x="332.76" y="368.59" width="1" height="1" fill="#f0704f"/>
<rect x="369.28" y="369.06" width="1" height="1" fill="#f0704f"/>
<rect x="357.08" y="370.22" width="1" height="1" fill="#f0704f"/>
<rect x="366.08" y="370.84" width="1" height="1" fill="#f0704f"/>
<rect x="358.45" y="371.81" width="1" height="1" fill="#f0704f"/>
<rect x="369.73" y="373.43" width="1" height="1" fill="#f0704f"/>
<rect x="343.37" y="374.13" width="1" height="1" fill="#f0704f"/>
<rect x="370.95" y="374.1" width="1" height="1" fill="#f0704f"/>
<rect x="333.04" y="375.47" width="1" height="1" fill="#f0704f"/>
<rect x="345.39" y="375.45" width="1" height="1" fill="#f0704f"/>
<rect x="363.88" y="374.9" width="1" height="1" fill="#f0704f"/>
<rect x="350.85" y="375.92" width="1" height="1" fill="#f0704f"/>
<rect x="348.84" y="377.33" width="1" height="1" fill="#f0704f"/>
<rect x="337.16" y="378.16" width="1" height="1" fill="#f0704f"/>
<rect x="342.31" y="380.2" width="1" height="1" fill="#f0704f"/>
<rect x="366.19" y="379.5" width="1" height="1" fill="#f0704f"/>
<rect x="361.94" y="381.47" width="1" height="1" fill="#f0704f"/>
<rect x="346.55" y="386.33" width="1" height="1" fill="#f0704f"/>
<rect x="334.21" y="388.15" width="1" height="1" fill="#f0704f"/>
<rect x="345.74" y="388.1" width="1" height="1" fill="#f0704f"/>
<rect x="342.53" y="389.5" width="1" height="1" fill="#f0704f"/>
<rect x="349.28" y="391" width="1" height="1" fill="#f0704f"/>
<rect x="358.3" y="390.72" width="1" height="1" fill="#f0704f"/>
<rect x="366.12" y="390.93" width="1" height="1" fill="#f0704f"/>
<rect x="369.69" y="391.27" width="1" height="1" fill="#f0704f"/>
<rect x="339.09" y="392.1" width="1" height="1" fill="#f0704f"/>
<rect x="345.57" y="393.05" width="1" height="1" fill="#f0704f"/>
<rect x="366.86" y="393.21" width="1" height="1" fill="#f0704f"/>
<rect x="350.55" y="394.93" width="1" height="1" fill="#f0704f"/>
<rect x="343.46" y="395.76" width="1" height="1" fill="#f0704f"/>
<rect x="344.51" y="395.76" width="1" height="1" fill="#f0704f"/>
<rect x="350.11" y="395.55" width="1" height="1" fill="#f0704f"/>
<rect x="350.23" y="396.7" width="1" height="1" fill="#f0704f"/>
<rect x="342.38" y="397.57" width="1" height="1" fill="#f0704f"/>
<rect x="350.19" y="398.25" width="1" height="1" fill="#f0704f"/>
<rect x="336.87" y="399.18" width="1" height="1" fill="#f0704f"/>
<rect x="355.32" y="399.28" width="1" height="1" fill="#f0704f"/>
<rect x="366.52" y="400.01" width="1" height="1" fill="#f0704f"/>
<rect x="342.46" y="401.82" width="1" height="1" fill="#f0704f"/>
<rect x="344.18" y="401.78" width="1" height="1" fill="#f0704f"/>
<rect x="345.34" y="402.87" width="1" height="1" fill="#f0704f"/>
<rect x="347.89" y="402.63" width="1" height="1" fill="#f0704f"/>
<rect x="348.67" y="404.77" width="1" height="1" fill="#f0704f"/>
<rect x="344.56" y="405.62" width="1" height="1" fill="#f0704f"/>
<rect x="339.79" y="407.27" width="1" height="1" fill="#f0704f"/>
<rect x="349.46" y="407.36" width="1" height="1" fill="#f0704f"/>
<rect x="344.92" y="408.35" width="1" height="1" fill="#f0704f"/>
<rect x="339.65" y="409.59" width="1" height="1" fill="#f0704f"/>
<rect x="356.76" y="410.19" width="1" height="1" fill="#f0704f"/>
<rect x="359.03" y="410.35" width="1" height="1" fill="#f0704f"/>
<rect x="364.21" y="413.11" width="1" height="1" fill="#f0704f"/>
<rect x="347.46" y="415.15" width="1" height="1" fill="#f0704f"/>
<rect x="360.47" y="414.69" width="1" height="1" fill="#f0704f"/>
<rect x="361.06" y="415.18" width="1" height="1" fill="#f0704f"/>
<rect x="358.7" y="416.16" width="1" height="1" fill="#f0704f"/>
<rect x="361.02" y="415.87" width="1" height="1" fill="#f0704f"/>
<rect x="350.06" y="417.13" width="1" height="1" fill="#f0704f"/>
<rect x="358.59" y="417.12" width="1" height="1" fill="#f0704f"/>
<rect x="360.42" y="417.61" width="1" height="1" fill="#f0704f"/>
<rect x="339.04" y="420.48" width="1" height="1" fill="#f0704f"/>
<rect x="344.17" y="420.44" width="1" height="1" fill="#f0704f"/>
<rect x="346.13" y="419.86" width="1" height="1" fill="#f0704f"/>
<rect x="348.35" y="420.22" width="1" height="1" fill="#f0704f"/>
<rect x="348.62" y="419.62" width="1" height="1" fill="#f0704f"/>
<rect x="368.85" y="419.93" width="1" height="1" fill="#f0704f"/>
<rect x="340.55" y="420.69" width="1" height="1" fill="#f0704f"/>
<rect x="341.8" y="420.63" width="1" height="1" fill="#f0704f"/>
<rect x="347.44" y="421.27" width="1" height="1" fill="#f0704f"/>
<rect x="348.22" y="421.44" width="1" height="1" fill="#f0704f"/>
<rect x="349.48" y="421.42" width="1" height="1" fill="#f0704f"/>
<rect x="357.16" y="420.96" width="1" height="1" fill="#f0704f"/>
<rect x="362.31" y="420.95" width="1" height="1" fill="#f0704f"/>
<rect x="365.96" y="420.76" width="1" height="1" fill="#f0704f"/>
<rect x="368.56" y="421.12" width="1" height="1" fill="#f0704f"/>
<rect x="337.76" y="421.94" width="1" height="1" fill="#f0704f"/>
<rect x="345.73" y="421.97" width="1" height="1" fill="#f0704f"/>
<rect x="349.3" y="422.31" width="1" height="1" fill="#f0704f"/>
<rect x="358.73" y="421.65" width="1" height="1" fill="#f0704f"/>
<rect x="362.19" y="422.27" width="1" height="1" fill="#f0704f"/>
<rect x="339.7" y="422.95" width="1" height="1" fill="#f0704f"/>
<rect x="362.12" y="423.79" width="1" height="1" fill="#f0704f"/>
<rect x="338.04" y="425" width="1" height="1" fill="#f0704f"/>
<rect x="339.58" y="424.53" width="1" height="1" fill="#f0704f"/>
<rect x="341.28" y="424.97" width="1" height="1" fill="#f0704f"/>
<rect x="346.83" y="424.71" width="1" height="1" fill="#f0704f"/>
<rect x="347.83" y="425.1" width="1" height="1" fill="#f0704f"/>
<rect x="355.04" y="425.09" width="1" height="1" fill="#f0704f"/>
<rect x="361.4" y="426.41" width="1" height="1" fill="#f0704f"/>
<rect x="364.46" y="426.19" width="1" height="1" fill="#f0704f"/>
<rect x="342.8" y="427.19" width="1" height="1" fill="#f0704f"/>
<rect x="349.64" y="426.75" width="1" height="1" fill="#f0704f"/>
<rect x="360.56" y="426.89" width="1" height="1" fill="#f0704f"/>
<rect x="342.05" y="427.85" width="1" height="1" fill="#f0704f"/>
<rect x="349.08" y="428.42" width="1" height="1" fill="#f0704f"/>
<rect x="357.68" y="427.97" width="1" height="1" fill="#f0704f"/>
<rect x="361.67" y="428.13" width="1" height="1" fill="#f0704f"/>
<rect x="364.34" y="427.66" width="1" height="1" fill="#f0704f"/>
<rect x="364.13" y="429.15" width="1" height="1" fill="#f0704f"/>
<rect x="338.38" y="429.74" width="1" height="1" fill="#f0704f"/>
<rect x="339.95" y="430.37" width="1" height="1" fill="#f0704f"/>
<rect x="340.77" y="430.2" width="1" height="1" fill="#f0704f"/>
<rect x="361.59" y="430.26" width="1" height="1" fill="#f0704f"/>
<rect x="343.07" y="431.42" width="1" height="1" fill="#f0704f"/>
<rect x="360.71" y="430.77" width="1" height="1" fill="#f0704f"/>
<rect x="365.92" y="430.57" width="1" height="1" fill="#f0704f"/>
<rect x="341.32" y="432.15" width="1" height="1" fill="#f0704f"/>
<rect x="347.76" y="431.54" width="1" height="1" fill="#f0704f"/>
<rect x="362.31" y="432.14" width="1" height="1" fill="#f0704f"/>
<rect x="347.36" y="432.9" width="1" height="1" fill="#f0704f"/>
<rect x="341.81" y="433.58" width="1" height="1" fill="#f0704f"/>
<rect x="364.58" y="433.59" width="1" height="1" fill="#f0704f"/>
<rect x="340.97" y="435.05" width="1" height="1" fill="#f0704f"/>
<rect x="356.09" y="435.34" width="1" height="1" fill="#f0704f"/>
<rect x="362.92" y="435.14" width="1" height="1" fill="#f0704f"/>
<rect x="340.55" y="436.3" width="1" height="1" fill="#f0704f"/>
<rect x="349.9" y="436.17" width="1" height="1" fill="#f0704f"/>
<rect x="364.44" y="436.25" width="1" height="1" fill="#f0704f"/>
<rect x="358.72" y="436.73" width="1" height="1" fill="#f0704f"/>
<rect x="344.12" y="438.3" width="1" height="1" fill="#f0704f"/>
<rect x="348.33" y="438.84" width="1" height="1" fill="#f0704f"/>
<rect x="348.75" y="438.84" width="1" height="1" fill="#f0704f"/>
<rect x="359.75" y="438.89" width="1" height="1" fill="#f0704f"/>
<rect x="365.78" y="438.66" width="1" height="1" fill="#f0704f"/>
<rect x="348.82" y="440.31" width="1" height="1" fill="#f0704f"/>
<rect x="354.61" y="439.69" width="1" height="1" fill="#f0704f"/>
<rect x="355.56" y="440.39" width="1" height="1" fill="#f0704f"/>
<rect x="357.25" y="440.1" width="1" height="1" fill="#f0704f"/>
<rect x="359.75" y="439.83" width="1" height="1" fill="#f0704f"/>
<rect x="361.06" y="439.94" width="1" height="1" fill="#f0704f"/>
<rect x="362.65" y="439.71" width="1" height="1" fill="#f0704f"/>
<rect x="364.14" y="440.31" width="1" height="1" fill="#f0704f"/>
<rect x="365.09" y="439.58" width="1" height="1" fill="#f0704f"/>
<rect x="342.04" y="440.87" width="1" height="1" fill="#f0704f"/>
<rect x="346.71" y="441.4" width="1" height="1" fill="#f0704f"/>
<rect x="357.93" y="440.86" width="1" height="1" fill="#f0704f"/>
<rect x="363.14" y="440.61" width="1" height="1" fill="#f0704f"/>
<rect x="364.3" y="441.19" width="1" height="1" fill="#f0704f"/>
<rect x="364.56" y="440.76" width="1" height="1" fill="#f0704f"/>
<rect x="342.5" y="441.63" width="1" height="1" fill="#f0704f"/>
<rect x="349.21" y="441.58" width="1" height="1" fill="#f0704f"/>
<rect x="355.18" y="441.79" width="1" height="1" fill="#f0704f"/>
<rect x="356.38" y="442.08" width="1" height="1" fill="#f0704f"/>
<rect x="358.96" y="442.4" width="1" height="1" fill="#f0704f"/>
<rect x="342.7" y="442.6" width="1" height="1" fill="#f0704f"/>
<rect x="357.82" y="443.42" width="1" height="1" fill="#f0704f"/>
<rect x="359.96" y="443.27" width="1" height="1" fill="#f0704f"/>
<rect x="363.89" y="442.86" width="1" height="1" fill="#f0704f"/>
<rect x="365.24" y="442.88" width="1" height="1" fill="#f0704f"/>
<rect x="340.86" y="443.85" width="1" height="1" fill="#f0704f"/>
<rect x="347.15" y="443.72" width="1" height="1" fill="#f0704f"/>
<rect x="348.71" y="443.57" width="1" height="1" fill="#f0704f"/>
<rect x="350.93" y="443.85" width="1" height="1" fill="#f0704f"/>
<rect x="358.11" y="444.09" width="1" height="1" fill="#f0704f"/>
<rect x="361.41" y="444.04" width="1" height="1" fill="#f0704f"/>
<rect x="362.59" y="443.93" width="1" height="1" fill="#f0704f"/>
<rect x="345.05" y="445.26" width="1" height="1" fill="#f0704f"/>
<rect x="346.28" y="445.19" width="1" height="1" fill="#f0704f"/>
<rect x="348.7" y="445.26" width="1" height="1" fill="#f0704f"/>
<rect x="359.46" y="444.51" width="1" height="1" fill="#f0704f"/>
<rect x="362.58" y="444.87" width="1" height="1" fill="#f0704f"/>
<rect x="364.68" y="445.26" width="1" height="1" fill="#f0704f"/>
<rect x="340.7" y="446.14" width="1" height="1" fill="#f0704f"/>
<rect x="341.55" y="445.9" width="1" height="1" fill="#f0704f"/>
<rect x="342.65" y="446.07" width="1" height="1" fill="#f0704f"/>
<rect x="346.47" y="446.41" width="1" height="1" fill="#f0704f"/>
<rect x="347.11" y="446.21" width="1" height="1" fill="#f0704f"/>
<rect x="356.62" y="446.38" width="1" height="1" fill="#f0704f"/>
<rect x="358.04" y="446" width="1" height="1" fill="#f0704f"/>
<rect x="363.96" y="445.87" width="1" height="1" fill="#f0704f"/>
<rect x="341.79" y="446.65" width="1" height="1" fill="#f0704f"/>
<rect x="344.15" y="446.56" width="1" height="1" fill="#f0704f"/>
<rect x="348.89" y="446.84" width="1" height="1" fill="#f0704f"/>
<rect x="349.67" y="446.75" width="1" height="1" fill="#f0704f"/>
<rect x="350.86" y="447.29" width="1" height="1" fill="#f0704f"/>
<rect x="355.42" y="446.64" width="1" height="1" fill="#f0704f"/>
<rect x="356.57" y="447.37" width="1" height="1" fill="#f0704f"/>
<rect x="361.29" y="446.75" width="1" height="1" fill="#f0704f"/>
<rect x="341.19" y="448.45" width="1" height="1" fill="#f0704f"/>
<rect x="344.98" y="447.9" width="1" height="1" fill="#f0704f"/>
<rect x="347.6" y="448.04" width="1" height="1" fill="#f0704f"/>
<rect x="348.78" y="447.87" width="1" height="1" fill="#f0704f"/>
<rect x="350.65" y="447.6" width="1" height="1" fill="#f0704f"/>
<rect x="356.17" y="448.5" width="1" height="1" fill="#f0704f"/>
<rect x="344.4" y="449.44" width="1" height="1" fill="#f0704f"/>
<rect x="347.85" y="448.68" width="1" height="1" fill="#f0704f"/>
<rect x="355.02" y="449.14" width="1" height="1" fill="#f0704f"/>
<rect x="356.37" y="448.6" width="1" height="1" fill="#f0704f"/>
<rect x="361.97" y="449.37" width="1" height="1" fill="#f0704f"/>
<rect x="340.99" y="449.72" width="1" height="1" fill="#f0704f"/>
<rect x="344.67" y="450.05" width="1" height="1" fill="#f0704f"/>
<rect x="346.67" y="449.9" width="1" height="1" fill="#f0704f"/>
<rect x="357.55" y="450.33" width="1" height="1" fill="#f0704f"/>
<rect x="359.96" y="449.66" width="1" height="1" fill="#f0704f"/>
<rect x="361.38" y="449.96" width="1" height="1" fill="#f0704f"/>
<rect x="362.74" y="450.4" width="1" height="1" fill="#f0704f"/>
<rect x="345.96" y="450.62" width="1" height="1" fill="#f0704f"/>
<rect x="348.03" y="451.28" width="1" height="1" fill="#f0704f"/>
<rect x="349.76" y="450.65" width="1" height="1" fill="#f0704f"/>
<rect x="355.38" y="450.78" width="1" height="1" fill="#f0704f"/>
<rect x="355.84" y="450.63" width="1" height="1" fill="#f0704f"/>
<rect x="364.83" y="451.16" width="1" height="1" fill="#f0704f"/>
<rect x="342.9" y="452.3" width="1" height="1" fill="#f0704f"/>
<rect x="346.62" y="451.84" width="1" height="1" fill="#f0704f"/>
<rect x="354.65" y="452.08" width="1" height="1" fill="#f0704f"/>
<rect x="356.93" y="451.58" width="1" height="1" fill="#f0704f"/>
<rect x="357.75" y="452.1" width="1" height="1" fill="#f0704f"/>
<rect x="361.83" y="451.82" width="1" height="1" fill="#f0704f"/>
<rect x="363.28" y="452.36" width="1" height="1" fill="#f0704f"/>
<rect x="341.08" y="453.41" width="1" height="1" fill="#f0704f"/>
<rect x="343.11" y="453.26" width="1" height="1" fill="#f0704f"/>
<rect x="343.87" y="453.37" width="1" height="1" fill="#f0704f"/>
<rect x="346.46" y="452.5" width="1" height="1" fill="#f0704f"/>
<rect x="359.04" y="452.57" width="1" height="1" fill="#f0704f"/>
<rect x="360.67" y="453.12" width="1" height="1" fill="#f0704f"/>
<rect x="362.98" y="453.05" width="1" height="1" fill="#f0704f"/>
<rect x="363.74" y="452.69" width="1" height="1" fill="#f0704f"/>
<rect x="339.07" y="454.15" width="1" height="1" fill="#f0704f"/>
<rect x="339.76" y="454.04" width="1" height="1" fill="#f0704f"/>
<rect x="341.94" y="454.49" width="1" height="1" fill="#f0704f"/>
<rect x="350.87" y="453.6" width="1" height="1" fill="#f0704f"/>
<rect x="358.41" y="453.61" width="1" height="1" fill="#f0704f"/>
<rect x="361.38" y="453.86" width="1" height="1" fill="#f0704f"/>
<rect x="363.26" y="453.84" width="1" height="1" fill="#f0704f"/>
<rect x="365.29" y="454.1" width="1" height="1" fill="#f0704f"/>
<rect x="365.84" y="453.55" width="1" height="1" fill="#f0704f"/>
<rect x="338.57" y="455.37" width="1" height="1" fill="#f0704f"/>
<rect x="341.12" y="454.86" width="1" height="1" fill="#f0704f"/>
<rect x="348.47" y="454.52" width="1" height="1" fill="#f0704f"/>
<rect x="349.11" y="454.82" width="1" height="1" fill="#f0704f"/>
<rect x="349.87" y="454.9" width="1" height="1" fill="#f0704f"/>
<rect x="355.61" y="454.72" width="1" height="1" fill="#f0704f"/>
<rect x="362.67" y="454.59" width="1" height="1" fill="#f0704f"/>
<rect x="362.99" y="455.74" width="1" height="1" fill="#f0704f"/>
<rect x="365.94" y="455.96" width="1" height="1" fill="#f0704f"/>
<rect x="340.01" y="457.03" width="1" height="1" fill="#f0704f"/>
<rect x="343.95" y="456.78" width="1" height="1" fill="#f0704f"/>
<rect x="345.3" y="456.9" width="1" height="1" fill="#f0704f"/>
<rect x="346.22" y="457.15" width="1" height="1" fill="#f0704f"/>
<rect x="347.82" y="457.02" width="1" height="1" fill="#f0704f"/>
<rect x="359.35" y="456.8" width="1" height="1" fill="#f0704f"/>
<rect x="361.5" y="456.55" width="1" height="1" fill="#f0704f"/>
<rect x="364.7" y="456.77" width="1" height="1" fill="#f0704f"/>
<rect x="337.44" y="458.17" width="1" height="1" fill="#f0704f"/>
<rect x="338.24" y="457.57" width="1" height="1" fill="#f0704f"/>
<rect x="338.93" y="457.84" width="1" height="1" fill="#f0704f"/>
<rect x="344.77" y="458.17" width="1" height="1" fill="#f0704f"/>
<rect x="348.12" y="458.34" width="1" height="1" fill="#f0704f"/>
<rect x="359.28" y="457.93" width="1" height="1" fill="#f0704f"/>
<rect x="360.29" y="457.63" width="1" height="1" fill="#f0704f"/>
<rect x="362.78" y="458.08" width="1" height="1" fill="#f0704f"/>
<rect x="364.45" y="457.76" width="1" height="1" fill="#f0704f"/>
<rect x="339.5" y="459.04" width="1" height="1" fill="#f0704f"/>
<rect x="342.4" y="459.12" width="1" height="1" fill="#f0704f"/>
<rect x="344.49" y="459" width="1" height="1" fill="#f0704f"/>
<rect x="344.74" y="458.68" width="1" height="1" fill="#f0704f"/>
<rect x="348.36" y="458.52" width="1" height="1" fill="#f0704f"/>
<rect x="358.45" y="458.72" width="1" height="1" fill="#f0704f"/>
<rect x="360.57" y="458.64" width="1" height="1" fill="#f0704f"/>
<rect x="362.49" y="458.95" width="1" height="1" fill="#f0704f"/>
<rect x="363.04" y="459" width="1" height="1" fill="#f0704f"/>
<rect x="363.79" y="458.92" width="1" height="1" fill="#f0704f"/>
<rect x="338.76" y="459.61" width="1" height="1" fill="#f0704f"/>
<rect x="339.56" y="460.09" width="1" height="1" fill="#f0704f"/>
<rect x="343.3" y="459.55" width="1" height="1" fill="#f0704f"/>
<rect x="348.27" y="459.65" width="1" height="1" fill="#f0704f"/>
<rect x="360.66" y="459.68" width="1" height="1" fill="#f0704f"/>
<rect x="362.51" y="459.59" width="1" height="1" fill="#f0704f"/>
<rect x="365.42" y="459.58" width="1" height="1" fill="#f0704f"/>
<rect x="366.6" y="459.8" width="1" height="1" fill="#f0704f"/>
<rect x="336.93" y="460.64" width="1" height="1" fill="#f0704f"/>
<rect x="346.74" y="461.14" width="1" height="1" fill="#f0704f"/>
<rect x="360.58" y="460.88" width="1" height="1" fill="#f0704f"/>
<rect x="365.37" y="461.41" width="1" height="1" fill="#f0704f"/>
<rect x="367.9" y="461.32" width="1" height="1" fill="#f0704f"/>
<rect x="339.07" y="461.77" width="1" height="1" fill="#f0704f"/>
<rect x="340.14" y="461.92" width="1" height="1" fill="#f0704f"/>
<rect x="341.36" y="461.81" width="1" height="1" fill="#f0704f"/>
<rect x="363.53" y="461.68" width="1" height="1" fill="#f0704f"/>
<rect x="364.8" y="461.66" width="1" height="1" fill="#f0704f"/>
<rect x="336.65" y="462.78" width="1" height="1" fill="#f0704f"/>
<rect x="338.45" y="462.77" width="1" height="1" fill="#f0704f"/>
<rect x="338.75" y="463.01" width="1" height="1" fill="#f0704f"/>
<rect x="340.11" y="462.89" width="1" height="1" fill="#f0704f"/>
<rect x="340.52" y="463.07" width="1" height="1" fill="#f0704f"/>
<rect x="344.8" y="463.46" width="1" height="1" fill="#f0704f"/>
<rect x="345.56" y="462.56" width="1" height="1" fill="#f0704f"/>
<rect x="357.81" y="462.65" width="1" height="1" fill="#f0704f"/>
<rect x="363.45" y="462.89" width="1" height="1" fill="#f0704f"/>
<rect x="364.55" y="462.9" width="1" height="1" fill="#f0704f"/>
<rect x="337.95" y="464.05" width="1" height="1" fill="#f0704f"/>
<rect x="339.33" y="464.33" width="1" height="1" fill="#f0704f"/>
<rect x="340.73" y="464.07" width="1" height="1" fill="#f0704f"/>
<rect x="342.38" y="463.71" width="1" height="1" fill="#f0704f"/>
<rect x="343.69" y="463.93" width="1" height="1" fill="#f0704f"/>
<rect x="362.08" y="464" width="1" height="1" fill="#f0704f"/>
<rect x="369.79" y="463.5" width="1" height="1" fill="#f0704f"/>
<rect x="338.23" y="464.82" width="1" height="1" fill="#f0704f"/>
<rect x="341.52" y="465.17" width="1" height="1" fill="#f0704f"/>
<rect x="363.87" y="465.35" width="1" height="1" fill="#f0704f"/>
<rect x="364.75" y="465.36" width="1" height="1" fill="#f0704f"/>
<rect x="338.51" y="465.97" width="1" height="1" fill="#f0704f"/>
<rect x="342.43" y="465.98" width="1" height="1" fill="#f0704f"/>
<rect x="344.03" y="465.56" width="1" height="1" fill="#f0704f"/>
<rect x="364.39" y="465.94" width="1" height="1" fill="#f0704f"/>
<rect x="453.58" y="236.47" width="1" height="1" fill="#f0704f"/>
<rect x="452.1" y="240.16" width="1" height="1" fill="#f0704f"/>
<rect x="457.05" y="241.04" width="1" height="1" fill="#f0704f"/>
<rect x="455.69" y="243.56" width="1" height="1" fill="#f0704f"/>
<rect x="458.39" y="245.87" width="1" height="1" fill="#f0704f"/>
<rect x="460.09" y="246.9" width="1" height="1" fill="#f0704f"/>
<rect x="452.82" y="248.88" width="1" height="1" fill="#f0704f"/>
<rect x="464.44" y="248.7" width="1" height="1" fill="#f0704f"/>
<rect x="457.23" y="252.3" width="1" height="1" fill="#f0704f"/>
<rect x="450.36" y="252.85" width="1" height="1" fill="#f0704f"/>
<rect x="447.52" y="254.42" width="1" height="1" fill="#f0704f"/>
<rect x="455.91" y="257.25" width="1" height="1" fill="#f0704f"/>
<rect x="457.79" y="257.13" width="1" height="1" fill="#f0704f"/>
<rect x="446.3" y="258.67" width="1" height="1" fill="#f0704f"/>
<rect x="458.45" y="260.98" width="1" height="1" fill="#f0704f"/>
<rect x="451.59" y="263.15" width="1" height="1" fill="#f0704f"/>
<rect x="460.28" y="265.15" width="1" height="1" fill="#f0704f"/>
<rect x="451.15" y="267.25" width="1" height="1" fill="#f0704f"/>
<rect x="458.17" y="270.63" width="1" height="1" fill="#f0704f"/>
<rect x="445.92" y="274.44" width="1" height="1" fill="#f0704f"/>
<rect x="451.63" y="274.88" width="1" height="1" fill="#f0704f"/>
<rect x="459.76" y="276.36" width="1" height="1" fill="#f0704f"/>
<rect x="464.15" y="276.28" width="1" height="1" fill="#f0704f"/>
<rect x="447.56" y="278.09" width="1" height="1" fill="#f0704f"/>
<rect x="449.3" y="278.48" width="1" height="1" fill="#f0704f"/>
<rect x="442.54" y="278.68" width="1" height="1" fill="#f0704f"/>
<rect x="450.94" y="280.22" width="1" height="1" fill="#f0704f"/>
<rect x="465.07" y="280.11" width="1" height="1" fill="#f0704f"/>
<rect x="468.32" y="280.9" width="1" height="1" fill="#f0704f"/>
<rect x="461.76" y="281.61" width="1" height="1" fill="#f0704f"/>
<rect x="425.69" y="283.21" width="1" height="1" fill="#f0704f"/>
<rect x="436.34" y="282.61" width="1" height="1" fill="#f0704f"/>
<rect x="474.54" y="282.82" width="1" height="1" fill="#f0704f"/>
<rect x="458.5" y="284.94" width="1" height="1" fill="#f0704f"/>
<rect x="462.58" y="286.13" width="1" height="1" fill="#f0704f"/>
<rect x="459.53" y="286.81" width="1" height="1" fill="#f0704f"/>
<rect x="459.62" y="287.87" width="1" height="1" fill="#f0704f"/>
<rect x="444.05" y="288.7" width="1" height="1" fill="#f0704f"/>
<rect x="450.34" y="288.76" width="1" height="1" fill="#f0704f"/>
<rect x="467.73" y="289.03" width="1" height="1" fill="#f0704f"/>
<rect x="434.66" y="290.37" width="1" height="1" fill="#f0704f"/>
<rect x="468.94" y="290.49" width="1" height="1" fill="#f0704f"/>
<rect x="479.75" y="289.86" width="1" height="1" fill="#f0704f"/>
<rect x="441.64" y="292.13" width="1" height="1" fill="#f0704f"/>
<rect x="478.6" y="292.42" width="1" height="1" fill="#f0704f"/>
<rect x="482.52" y="292.15" width="1" height="1" fill="#f0704f"/>
<rect x="435.5" y="293.19" width="1" height="1" fill="#f0704f"/>
<rect x="436.33" y="293.24" width="1" height="1" fill="#f0704f"/>
<rect x="461.49" y="293.35" width="1" height="1" fill="#f0704f"/>
<rect x="471.3" y="293.26" width="1" height="1" fill="#f0704f"/>
<rect x="446.85" y="294.18" width="1" height="1" fill="#f0704f"/>
<rect x="457.82" y="294.3" width="1" height="1" fill="#f0704f"/>
<rect x="467.46" y="294.81" width="1" height="1" fill="#f0704f"/>
<rect x="424.4" y="296.44" width="1" height="1" fill="#f0704f"/>
<rect x="425.97" y="295.55" width="1" height="1" fill="#f0704f"/>
<rect x="439.84" y="295.63" width="1" height="1" fill="#f0704f"/>
<rect x="459.6" y="295.72" width="1" height="1" fill="#f0704f"/>
<rect x="469.11" y="295.83" width="1" height="1" fill="#f0704f"/>
<rect x="486.6" y="296.15" width="1" height="1" fill="#f0704f"/>
<rect x="451.38" y="297.15" width="1" height="1" fill="#f0704f"/>
<rect x="461.36" y="297.27" width="1" height="1" fill="#f0704f"/>
<rect x="464.17" y="297.26" width="1" height="1" fill="#f0704f"/>
<rect x="474.58" y="296.82" width="1" height="1" fill="#f0704f"/>
<rect x="469.31" y="297.87" width="1" height="1" fill="#f0704f"/>
<rect x="471.66" y="298.78" width="1" height="1" fill="#f0704f"/>
<rect x="443.72" y="300.35" width="1" height="1" fill="#f0704f"/>
<rect x="456.06" y="300.2" width="1" height="1" fill="#f0704f"/>
<rect x="472.81" y="300.42" width="1" height="1" fill="#f0704f"/>
<rect x="480.77" y="300.24" width="1" height="1" fill="#f0704f"/>
<rect x="483.29" y="299.98" width="1" height="1" fill="#f0704f"/>
<rect x="435.69" y="300.83" width="1" height="1" fill="#f0704f"/>
<rect x="459.44" y="300.79" width="1" height="1" fill="#f0704f"/>
<rect x="473.01" y="301.69" width="1" height="1" fill="#f0704f"/>
<rect x="430.9" y="302.52" width="1" height="1" fill="#f0704f"/>
<rect x="450.87" y="302.75" width="1" height="1" fill="#f0704f"/>
<rect x="470.7" y="303.44" width="1" height="1" fill="#f0704f"/>
<rect x="484.84" y="303.04" width="1" height="1" fill="#f0704f"/>
<rect x="450.86" y="303.79" width="1" height="1" fill="#f0704f"/>
<rect x="453.96" y="303.86" width="1" height="1" fill="#f0704f"/>
<rect x="464.35" y="303.99" width="1" height="1" fill="#f0704f"/>
<rect x="481.07" y="304.07" width="1" height="1" fill="#f0704f"/>
<rect x="484.41" y="304.49" width="1" height="1" fill="#f0704f"/>
<rect x="435.73" y="305.17" width="1" height="1" fill="#f0704f"/>
<rect x="446.32" y="305.48" width="1" height="1" fill="#f0704f"/>
<rect x="451.66" y="305.46" width="1" height="1" fill="#f0704f"/>
<rect x="423.82" y="306.06" width="1" height="1" fill="#f0704f"/>
<rect x="436.63" y="305.99" width="1" height="1" fill="#f0704f"/>
<rect x="439.74" y="306.11" width="1" height="1" fill="#f0704f"/>
<rect x="453.54" y="305.93" width="1" height="1" fill="#f0704f"/>
<rect x="441.3" y="307.02" width="1" height="1" fill="#f0704f"/>
<rect x="451.28" y="307.49" width="1" height="1" fill="#f0704f"/>
<rect x="450.99" y="308.33" width="1" height="1" fill="#f0704f"/>
<rect x="468.35" y="307.86" width="1" height="1" fill="#f0704f"/>
<rect x="447.4" y="308.96" width="1" height="1" fill="#f0704f"/>
<rect x="456.33" y="309.14" width="1" height="1" fill="#f0704f"/>
<rect x="460.79" y="309.44" width="1" height="1" fill="#f0704f"/>
<rect x="454.01" y="310.28" width="1" height="1" fill="#f0704f"/>
<rect x="472.55" y="309.97" width="1" height="1" fill="#f0704f"/>
<rect x="448.89" y="311.29" width="1" height="1" fill="#f0704f"/>
<rect x="453.7" y="311.11" width="1" height="1" fill="#f0704f"/>
<rect x="455.95" y="311.22" width="1" height="1" fill="#f0704f"/>
<rect x="450.34" y="312.82" width="1" height="1" fill="#f0704f"/>
<rect x="472.53" y="313.22" width="1" height="1" fill="#f0704f"/>
<rect x="424.9" y="313.54" width="1" height="1" fill="#f0704f"/>
<rect x="444.88" y="314.09" width="1" height="1" fill="#f0704f"/>
<rect x="466.38" y="314.22" width="1" height="1" fill="#f0704f"/>
<rect x="445.27" y="315.18" width="1" height="1" fill="#f0704f"/>
<rect x="455.34" y="315.12" width="1" height="1" fill="#f0704f"/>
<rect x="463.27" y="315.19" width="1" height="1" fill="#f0704f"/>
<rect x="480.24" y="314.53" width="1" height="1" fill="#f0704f"/>
<rect x="441.8" y="315.78" width="1" height="1" fill="#f0704f"/>
<rect x="473.12" y="315.96" width="1" height="1" fill="#f0704f"/>
<rect x="469.39" y="316.77" width="1" height="1" fill="#f0704f"/>
<rect x="425.07" y="318.19" width="1" height="1" fill="#f0704f"/>
<rect x="465.65" y="319.14" width="1" height="1" fill="#f0704f"/>
<rect x="441.02" y="321.35" width="1" height="1" fill="#f0704f"/>
<rect x="421.67" y="321.73" width="1" height="1" fill="#f0704f"/>
<rect x="445.89" y="322.02" width="1" height="1" fill="#f0704f"/>
<rect x="481.2" y="321.83" width="1" height="1" fill="#f0704f"/>
<rect x="471.13" y="322.54" width="1" height="1" fill="#f0704f"/>
<rect x="420.15" y="323.55" width="1" height="1" fill="#f0704f"/>
<rect x="438.26" y="323.67" width="1" height="1" fill="#f0704f"/>
<rect x="445.71" y="324.25" width="1" height="1" fill="#f0704f"/>
<rect x="453.3" y="324.26" width="1" height="1" fill="#f0704f"/>
<rect x="441.06" y="324.51" width="1" height="1" fill="#f0704f"/>
<rect x="456.19" y="326.27" width="1" height="1" fill="#f0704f"/>
<rect x="469.32" y="326.38" width="1" height="1" fill="#f0704f"/>
<rect x="479.57" y="325.89" width="1" height="1" fill="#f0704f"/>
<rect x="438" y="326.64" width="1" height="1" fill="#f0704f"/>
<rect x="465.67" y="328.01" width="1" height="1" fill="#f0704f"/>
<rect x="441.35" y="328.68" width="1" height="1" fill="#f0704f"/>
<rect x="455.67" y="329.51" width="1" height="1" fill="#f0704f"/>
<rect x="456.54" y="331.46" width="1" height="1" fill="#f0704f"/>
<rect x="470.36" y="330.54" width="1" height="1" fill="#f0704f"/>
<rect x="418.67" y="332.3" width="1" height="1" fill="#f0704f"/>
<rect x="446.72" y="331.81" width="1" height="1" fill="#f0704f"/>
<rect x="463.32" y="333.9" width="1" height="1" fill="#f0704f"/>
<rect x="489.97" y="333.72" width="1" height="1" fill="#f0704f"/>
<rect x="448.18" y="337.95" width="1" height="1" fill="#f0704f"/>
<rect x="452.11" y="338.37" width="1" height="1" fill="#f0704f"/>
<rect x="443.64" y="340.65" width="1" height="1" fill="#f0704f"/>
<rect x="438.71" y="342.28" width="1" height="1" fill="#f0704f"/>
<rect x="462.67" y="341.64" width="1" height="1" fill="#f0704f"/>
<rect x="491.3" y="342.15" width="1" height="1" fill="#f0704f"/>
<rect x="455.79" y="343.24" width="1" height="1" fill="#f0704f"/>
<rect x="457.53" y="344.57" width="1" height="1" fill="#f0704f"/>
<rect x="441.54" y="346.44" width="1" height="1" fill="#f0704f"/>
<rect x="452.17" y="345.61" width="1" height="1" fill="#f0704f"/>
<rect x="462.75" y="345.66" width="1" height="1" fill="#f0704f"/>
<rect x="447.68" y="347.23" width="1" height="1" fill="#f0704f"/>
<rect x="448.93" y="347.28" width="1" height="1" fill="#f0704f"/>
<rect x="463.92" y="346.78" width="1" height="1" fill="#f0704f"/>
<rect x="443.11" y="347.93" width="1" height="1" fill="#f0704f"/>
<rect x="466.8" y="347.58" width="1" height="1" fill="#f0704f"/>
<rect x="442.29" y="348.72" width="1" height="1" fill="#f0704f"/>
<rect x="454.47" y="348.55" width="1" height="1" fill="#f0704f"/>
<rect x="443.82" y="350.3" width="1" height="1" fill="#f0704f"/>
<rect x="444.56" y="350.27" width="1" height="1" fill="#f0704f"/>
<rect x="447.31" y="350.1" width="1" height="1" fill="#f0704f"/>
<rect x="463.15" y="350.44" width="1" height="1" fill="#f0704f"/>
<rect x="436.43" y="351.29" width="1" height="1" fill="#f0704f"/>
<rect x="440.97" y="350.76" width="1" height="1" fill="#f0704f"/>
<rect x="444.43" y="351.12" width="1" height="1" fill="#f0704f"/>
<rect x="449.86" y="350.86" width="1" height="1" fill="#f0704f"/>
<rect x="452.23" y="350.61" width="1" height="1" fill="#f0704f"/>
<rect x="471.21" y="350.8" width="1" height="1" fill="#f0704f"/>
<rect x="472.56" y="351.34" width="1" height="1" fill="#f0704f"/>
<rect x="446.63" y="351.97" width="1" height="1" fill="#f0704f"/>
<rect x="439.64" y="353.36" width="1" height="1" fill="#f0704f"/>
<rect x="455.81" y="352.67" width="1" height="1" fill="#f0704f"/>
<rect x="443.84" y="354.3" width="1" height="1" fill="#f0704f"/>
<rect x="455.33" y="355.49" width="1" height="1" fill="#f0704f"/>
<rect x="456.28" y="355.26" width="1" height="1" fill="#f0704f"/>
<rect x="463.61" y="355.22" width="1" height="1" fill="#f0704f"/>
<rect x="470.28" y="354.93" width="1" height="1" fill="#f0704f"/>
<rect x="452.25" y="356.43" width="1" height="1" fill="#f0704f"/>
<rect x="463.93" y="355.57" width="1" height="1" fill="#f0704f"/>
<rect x="465.75" y="356.81" width="1" height="1" fill="#f0704f"/>
<rect x="467.61" y="356.56" width="1" height="1" fill="#f0704f"/>
<rect x="435.75" y="357.61" width="1" height="1" fill="#f0704f"/>
<rect x="443.57" y="357.57" width="1" height="1" fill="#f0704f"/>
<rect x="451.57" y="358.47" width="1" height="1" fill="#f0704f"/>
<rect x="471.43" y="358.26" width="1" height="1" fill="#f0704f"/>
<rect x="456.45" y="358.53" width="1" height="1" fill="#f0704f"/>
<rect x="468.8" y="358.77" width="1" height="1" fill="#f0704f"/>
<rect x="473.98" y="359.35" width="1" height="1" fill="#f0704f"/>
<rect x="447.58" y="360.32" width="1" height="1" fill="#f0704f"/>
<rect x="459.59" y="360.27" width="1" height="1" fill="#f0704f"/>
<rect x="441.88" y="361.88" width="1" height="1" fill="#f0704f"/>
<rect x="458.76" y="361.82" width="1" height="1" fill="#f0704f"/>
<rect x="461.41" y="362.39" width="1" height="1" fill="#f0704f"/>
<rect x="473.15" y="361.76" width="1" height="1" fill="#f0704f"/>
<rect x="436.79" y="363.21" width="1" height="1" fill="#f0704f"/>
<rect x="442.87" y="363.41" width="1" height="1" fill="#f0704f"/>
<rect x="435.65" y="364.38" width="1" height="1" fill="#f0704f"/>
<rect x="437.04" y="364.16" width="1" height="1" fill="#f0704f"/>
<rect x="447.9" y="363.9" width="1" height="1" fill="#f0704f"/>
<rect x="474.62" y="364.4" width="1" height="1" fill="#f0704f"/>
<rect x="461.95" y="365.01" width="1" height="1" fill="#f0704f"/>
<rect x="472.74" y="364.88" width="1" height="1" fill="#f0704f"/>
<rect x="465.83" y="365.82" width="1" height="1" fill="#f0704f"/>
<rect x="472.95" y="367.87" width="1" height="1" fill="#f0704f"/>
<rect x="440.69" y="369.06" width="1" height="1" fill="#f0704f"/>
<rect x="445.73" y="370.91" width="1" height="1" fill="#f0704f"/>
<rect x="443.14" y="373.48" width="1" height="1" fill="#f0704f"/>
<rect x="441.77" y="374.18" width="1" height="1" fill="#f0704f"/>
<rect x="447.93" y="373.62" width="1" height="1" fill="#f0704f"/>
<rect x="468.24" y="374.34" width="1" height="1" fill="#f0704f"/>
<rect x="441.4" y="374.97" width="1" height="1" fill="#f0704f"/>
<rect x="441.78" y="375.66" width="1" height="1" fill="#f0704f"/>
<rect x="435.76" y="379.31" width="1" height="1" fill="#f0704f"/>
<rect x="465.5" y="379.66" width="1" height="1" fill="#f0704f"/>
<rect x="462.91" y="380.71" width="1" height="1" fill="#f0704f"/>
<rect x="437.16" y="381.61" width="1" height="1" fill="#f0704f"/>
<rect x="463.12" y="382.82" width="1" height="1" fill="#f0704f"/>
<rect x="464.12" y="383.29" width="1" height="1" fill="#f0704f"/>
<rect x="441.8" y="384.98" width="1" height="1" fill="#f0704f"/>
<rect x="458.55" y="385.01" width="1" height="1" fill="#f0704f"/>
<rect x="468.03" y="387.22" width="1" height="1" fill="#f0704f"/>
<rect x="447.63" y="387.81" width="1" height="1" fill="#f0704f"/>
<rect x="469.49" y="388.36" width="1" height="1" fill="#f0704f"/>
<rect x="442.73" y="388.85" width="1" height="1" fill="#f0704f"/>
<rect x="472.23" y="393.36" width="1" height="1" fill="#f0704f"/>
<rect x="470.03" y="395.11" width="1" height="1" fill="#f0704f"/>
<rect x="464.65" y="395.76" width="1" height="1" fill="#f0704f"/>
<rect x="444.2" y="396.58" width="1" height="1" fill="#f0704f"/>
<rect x="437.9" y="398.31" width="1" height="1" fill="#f0704f"/>
<rect x="458.36" y="397.93" width="1" height="1" fill="#f0704f"/>
<rect x="468.74" y="398.44" width="1" height="1" fill="#f0704f"/>
<rect x="446.81" y="398.81" width="1" height="1" fill="#f0704f"/>
<rect x="459.18" y="399.89" width="1" height="1" fill="#f0704f"/>
<rect x="460.94" y="400.46" width="1" height="1" fill="#f0704f"/>
<rect x="456.73" y="402.32" width="1" height="1" fill="#f0704f"/>
<rect x="460.1" y="401.51" width="1" height="1" fill="#f0704f"/>
<rect x="462.66" y="401.97" width="1" height="1" fill="#f0704f"/>
<rect x="468.71" y="402.23" width="1" height="1" fill="#f0704f"/>
<rect x="445.07" y="403.08" width="1" height="1" fill="#f0704f"/>
<rect x="465.06" y="403.47" width="1" height="1" fill="#f0704f"/>
<rect x="442.6" y="404.35" width="1" height="1" fill="#f0704f"/>
<rect x="456.96" y="404.2" width="1" height="1" fill="#f0704f"/>
<rect x="439.49" y="404.73" width="1" height="1" fill="#f0704f"/>
<rect x="441.7" y="404.59" width="1" height="1" fill="#f0704f"/>
<rect x="462.56" y="405.33" width="1" height="1" fill="#f0704f"/>
<rect x="452.13" y="406.49" width="1" height="1" fill="#f0704f"/>
<rect x="439.96" y="408.24" width="1" height="1" fill="#f0704f"/>
<rect x="441.41" y="408.38" width="1" height="1" fill="#f0704f"/>
<rect x="457.68" y="408.39" width="1" height="1" fill="#f0704f"/>
<rect x="451.69" y="409.45" width="1" height="1" fill="#f0704f"/>
<rect x="460.06" y="409.22" width="1" height="1" fill="#f0704f"/>
<rect x="466.26" y="410.96" width="1" height="1" fill="#f0704f"/>
<rect x="467.34" y="412.07" width="1" height="1" fill="#f0704f"/>
<rect x="451.25" y="413.12" width="1" height="1" fill="#f0704f"/>
<rect x="457.12" y="412.7" width="1" height="1" fill="#f0704f"/>
<rect x="465.48" y="413.13" width="1" height="1" fill="#f0704f"/>
<rect x="464.28" y="414" width="1" height="1" fill="#f0704f"/>
<rect x="465.54" y="414.48" width="1" height="1" fill="#f0704f"/>
<rect x="442.15" y="417.12" width="1" height="1" fill="#f0704f"/>
<rect x="445.87" y="417.73" width="1" height="1" fill="#f0704f"/>
<rect x="464.1" y="417.86" width="1" height="1" fill="#f0704f"/>
<rect x="463.12" y="418.64" width="1" height="1" fill="#f0704f"/>
<rect x="470.3" y="419.25" width="1" height="1" fill="#f0704f"/>
<rect x="469.22" y="420.42" width="1" height="1" fill="#f0704f"/>
<rect x="445.94" y="421.18" width="1" height="1" fill="#f0704f"/>
<rect x="462.98" y="421.3" width="1" height="1" fill="#f0704f"/>
<rect x="441.63" y="422.33" width="1" height="1" fill="#f0704f"/>
<rect x="445.7" y="421.67" width="1" height="1" fill="#f0704f"/>
<rect x="452.41" y="422.49" width="1" height="1" fill="#f0704f"/>
<rect x="469.98" y="421.67" width="1" height="1" fill="#f0704f"/>
<rect x="466.42" y="423.15" width="1" height="1" fill="#f0704f"/>
<rect x="452.22" y="424.26" width="1" height="1" fill="#f0704f"/>
<rect x="466.31" y="424.45" width="1" height="1" fill="#f0704f"/>
<rect x="439.83" y="424.67" width="1" height="1" fill="#f0704f"/>
<rect x="441.15" y="425.02" width="1" height="1" fill="#f0704f"/>
<rect x="443.19" y="425.14" width="1" height="1" fill="#f0704f"/>
<rect x="456.45" y="424.6" width="1" height="1" fill="#f0704f"/>
<rect x="457.29" y="425.15" width="1" height="1" fill="#f0704f"/>
<rect x="464.23" y="425.09" width="1" height="1" fill="#f0704f"/>
<rect x="441.05" y="426.21" width="1" height="1" fill="#f0704f"/>
<rect x="447.41" y="425.93" width="1" height="1" fill="#f0704f"/>
<rect x="465.47" y="425.59" width="1" height="1" fill="#f0704f"/>
<rect x="448.09" y="426.64" width="1" height="1" fill="#f0704f"/>
<rect x="460.68" y="427.15" width="1" height="1" fill="#f0704f"/>
<rect x="441.65" y="428.38" width="1" height="1" fill="#f0704f"/>
<rect x="460.96" y="427.65" width="1" height="1" fill="#f0704f"/>
<rect x="466.36" y="428.44" width="1" height="1" fill="#f0704f"/>
<rect x="469.25" y="428.16" width="1" height="1" fill="#f0704f"/>
<rect x="441.8" y="429.06" width="1" height="1" fill="#f0704f"/>
<rect x="443.97" y="429.04" width="1" height="1" fill="#f0704f"/>
<rect x="457.19" y="430.46" width="1" height="1" fill="#f0704f"/>
<rect x="458.75" y="429.78" width="1" height="1" fill="#f0704f"/>
<rect x="461.13" y="429.82" width="1" height="1" fill="#f0704f"/>
<rect x="464.02" y="430.41" width="1" height="1" fill="#f0704f"/>
<rect x="466.76" y="429.53" width="1" height="1" fill="#f0704f"/>
<rect x="468.25" y="430.17" width="1" height="1" fill="#f0704f"/>
<rect x="440.29" y="431.04" width="1" height="1" fill="#f0704f"/>
<rect x="441.28" y="431.27" width="1" height="1" fill="#f0704f"/>
<rect x="442.61" y="430.53" width="1" height="1" fill="#f0704f"/>
<rect x="446.62" y="430.85" width="1" height="1" fill="#f0704f"/>
<rect x="448.21" y="431.21" width="1" height="1" fill="#f0704f"/>
<rect x="456.77" y="430.93" width="1" height="1" fill="#f0704f"/>
<rect x="459.03" y="430.92" width="1" height="1" fill="#f0704f"/>
<rect x="462.41" y="430.94" width="1" height="1" fill="#f0704f"/>
<rect x="441.06" y="432.26" width="1" height="1" fill="#f0704f"/>
<rect x="449.51" y="432.45" width="1" height="1" fill="#f0704f"/>
<rect x="464.08" y="432.38" width="1" height="1" fill="#f0704f"/>
<rect x="452.52" y="433.21" width="1" height="1" fill="#f0704f"/>
<rect x="463.73" y="432.53" width="1" height="1" fill="#f0704f"/>
<rect x="464.69" y="433.38" width="1" height="1" fill="#f0704f"/>
<rect x="440.93" y="433.59" width="1" height="1" fill="#f0704f"/>
<rect x="443.71" y="434.37" width="1" height="1" fill="#f0704f"/>
<rect x="449.93" y="433.61" width="1" height="1" fill="#f0704f"/>
<rect x="458.24" y="434.49" width="1" height="1" fill="#f0704f"/>
<rect x="448.52" y="435.34" width="1" height="1" fill="#f0704f"/>
<rect x="462.75" y="434.98" width="1" height="1" fill="#f0704f"/>
<rect x="467.2" y="434.51" width="1" height="1" fill="#f0704f"/>
<rect x="449.23" y="435.95" width="1" height="1" fill="#f0704f"/>
<rect x="461.3" y="435.96" width="1" height="1" fill="#f0704f"/>
<rect x="459.18" y="436.52" width="1" height="1" fill="#f0704f"/>
<rect x="442.67" y="437.72" width="1" height="1" fill="#f0704f"/>
<rect x="465.02" y="438.28" width="1" height="1" fill="#f0704f"/>
<rect x="449.15" y="438.72" width="1" height="1" fill="#f0704f"/>
<rect x="443.32" y="440.13" width="1" height="1" fill="#f0704f"/>
<rect x="446.03" y="439.94" width="1" height="1" fill="#f0704f"/>
<rect x="450.75" y="440.01" width="1" height="1" fill="#f0704f"/>
<rect x="463.76" y="439.94" width="1" height="1" fill="#f0704f"/>
<rect x="443.19" y="440.75" width="1" height="1" fill="#f0704f"/>
<rect x="450.39" y="440.73" width="1" height="1" fill="#f0704f"/>
<rect x="450.51" y="441.33" width="1" height="1" fill="#f0704f"/>
<rect x="457.65" y="442.35" width="1" height="1" fill="#f0704f"/>
<rect x="459.86" y="442.13" width="1" height="1" fill="#f0704f"/>
<rect x="464.66" y="441.88" width="1" height="1" fill="#f0704f"/>
<rect x="442.86" y="442.87" width="1" height="1" fill="#f0704f"/>
<rect x="449.03" y="443.49" width="1" height="1" fill="#f0704f"/>
<rect x="459.3" y="443.32" width="1" height="1" fill="#f0704f"/>
<rect x="446.01" y="443.79" width="1" height="1" fill="#f0704f"/>
<rect x="457.03" y="443.81" width="1" height="1" fill="#f0704f"/>
<rect x="461.66" y="443.89" width="1" height="1" fill="#f0704f"/>
<rect x="444.89" y="445.23" width="1" height="1" fill="#f0704f"/>
<rect x="447.06" y="444.72" width="1" height="1" fill="#f0704f"/>
<rect x="456.81" y="444.97" width="1" height="1" fill="#f0704f"/>
<rect x="459.58" y="444.8" width="1" height="1" fill="#f0704f"/>
<rect x="460.93" y="445.36" width="1" height="1" fill="#f0704f"/>
<rect x="449.25" y="446.43" width="1" height="1" fill="#f0704f"/>
<rect x="450.83" y="445.96" width="1" height="1" fill="#f0704f"/>
<rect x="459.3" y="445.56" width="1" height="1" fill="#f0704f"/>
<rect x="461.59" y="445.75" width="1" height="1" fill="#f0704f"/>
<rect x="452.06" y="447.18" width="1" height="1" fill="#f0704f"/>
<rect x="457.54" y="447.1" width="1" height="1" fill="#f0704f"/>
<rect x="464.09" y="446.79" width="1" height="1" fill="#f0704f"/>
<rect x="446.29" y="447.58" width="1" height="1" fill="#f0704f"/>
<rect x="447.81" y="447.78" width="1" height="1" fill="#f0704f"/>
<rect x="457.77" y="448.23" width="1" height="1" fill="#f0704f"/>
<rect x="459.2" y="448.22" width="1" height="1" fill="#f0704f"/>
<rect x="460.05" y="448.24" width="1" height="1" fill="#f0704f"/>
<rect x="463.79" y="447.74" width="1" height="1" fill="#f0704f"/>
<rect x="451.44" y="448.94" width="1" height="1" fill="#f0704f"/>
<rect x="461.33" y="449.15" width="1" height="1" fill="#f0704f"/>
<rect x="462.68" y="449.38" width="1" height="1" fill="#f0704f"/>
<rect x="444.45" y="450.4" width="1" height="1" fill="#f0704f"/>
<rect x="446.64" y="450.37" width="1" height="1" fill="#f0704f"/>
<rect x="447.65" y="450.19" width="1" height="1" fill="#f0704f"/>
<rect x="459.8" y="449.57" width="1" height="1" fill="#f0704f"/>
<rect x="464.21" y="449.53" width="1" height="1" fill="#f0704f"/>
<rect x="457.54" y="451.48" width="1" height="1" fill="#f0704f"/>
<rect x="458.7" y="450.54" width="1" height="1" fill="#f0704f"/>
<rect x="463.8" y="450.58" width="1" height="1" fill="#f0704f"/>
<rect x="448.38" y="452.37" width="1" height="1" fill="#f0704f"/>
<rect x="449.73" y="452.18" width="1" height="1" fill="#f0704f"/>
<rect x="456.84" y="451.88" width="1" height="1" fill="#f0704f"/>
<rect x="459.5" y="451.84" width="1" height="1" fill="#f0704f"/>
<rect x="463.8" y="451.76" width="1" height="1" fill="#f0704f"/>
<rect x="448.32" y="452.99" width="1" height="1" fill="#f0704f"/>
<rect x="458.78" y="453.12" width="1" height="1" fill="#f0704f"/>
<rect x="464.67" y="452.83" width="1" height="1" fill="#f0704f"/>
<rect x="450.7" y="454.19" width="1" height="1" fill="#f0704f"/>
<rect x="457.97" y="453.6" width="1" height="1" fill="#f0704f"/>
<rect x="461.88" y="453.74" width="1" height="1" fill="#f0704f"/>
<rect x="463.55" y="453.69" width="1" height="1" fill="#f0704f"/>
<rect x="462.12" y="454.54" width="1" height="1" fill="#f0704f"/>
<rect x="463.07" y="455.15" width="1" height="1" fill="#f0704f"/>
<rect x="445.26" y="456.12" width="1" height="1" fill="#f0704f"/>
<rect x="459.1" y="455.93" width="1" height="1" fill="#f0704f"/>
<rect x="446.16" y="456.72" width="1" height="1" fill="#f0704f"/>
<rect x="459.85" y="457.02" width="1" height="1" fill="#f0704f"/>
<rect x="460.71" y="457.1" width="1" height="1" fill="#f0704f"/>
<rect x="447.04" y="457.51" width="1" height="1" fill="#f0704f"/>
<rect x="459.89" y="458.5" width="1" height="1" fill="#f0704f"/>
<rect x="446.8" y="459.32" width="1" height="1" fill="#f0704f"/>
<rect x="459.41" y="459.5" width="1" height="1" fill="#f0704f"/>
<rect x="466.88" y="458.58" width="1" height="1" fill="#f0704f"/>
<rect x="459.2" y="459.51" width="1" height="1" fill="#f0704f"/>
<rect x="460.89" y="459.56" width="1" height="1" fill="#f0704f"/>
<rect x="464.11" y="460.25" width="1" height="1" fill="#f0704f"/>
<rect x="448.47" y="460.52" width="1" height="1" fill="#f0704f"/>
<rect x="451.48" y="460.79" width="1" height="1" fill="#f0704f"/>
<rect x="453.49" y="460.63" width="1" height="1" fill="#f0704f"/>
<rect x="458.05" y="460.89" width="1" height="1" fill="#f0704f"/>
<rect x="459.78" y="461.09" width="1" height="1" fill="#f0704f"/>
<rect x="464.68" y="460.69" width="1" height="1" fill="#f0704f"/>
<rect x="459.79" y="462.35" width="1" height="1" fill="#f0704f"/>
<rect x="468.34" y="462.13" width="1" height="1" fill="#f0704f"/>
<rect x="461.82" y="462.91" width="1" height="1" fill="#f0704f"/>
<rect x="466.06" y="463.19" width="1" height="1" fill="#f0704f"/>
<rect x="443.02" y="463.99" width="1" height="1" fill="#f0704f"/>
<rect x="445.46" y="463.63" width="1" height="1" fill="#f0704f"/>
<rect x="456.58" y="463.76" width="1" height="1" fill="#f0704f"/>
<rect x="463.35" y="464.34" width="1" height="1" fill="#f0704f"/>
<rect x="461.15" y="466.56" width="1" height="1" fill="#f0704f"/>
<path d="M353.3,236.8 C352.45,236.95 349.65,237.08 348.2,237.7 C346.75,238.32 345.5,239.28 344.6,240.5 C343.7,241.72 343.15,243.25 342.8,245 C342.45,246.75 342.52,249 342.5,251 C342.48,253 342.6,255.33 342.7,257 C342.8,258.67 342.83,259.7 343.1,261 C343.37,262.3 343.88,263.7 344.3,264.8 C344.72,265.9 345.4,266.57 345.6,267.6 C345.8,268.63 345.52,269.93 345.5,271 C345.48,272.07 346.17,273.07 345.5,274 C344.83,274.93 343.17,275.83 341.5,276.6 C339.83,277.37 337.5,278.03 335.5,278.6 C333.5,279.17 331.17,279.43 329.5,280 C327.83,280.57 326.65,281.17 325.5,282 C324.35,282.83 323.3,283.67 322.6,285 C321.9,286.33 321.6,288.17 321.3,290 C321,291.83 321,294 320.8,296 C320.6,298 320.35,299.33 320.1,302 C319.85,304.67 319.55,308.9 319.3,312 C319.05,315.1 319,318.1 318.6,320.6 C318.2,323.1 317.35,324.93 316.9,327 C316.45,329.07 316.13,330.83 315.9,333 C315.67,335.17 315.62,337.4 315.5,340 C315.38,342.6 315.52,346.88 315.2,348.6 C314.88,350.32 314.27,349.7 313.6,350.3 C312.93,350.9 312.03,351.45 311.2,352.2 C310.37,352.95 309.37,353.9 308.6,354.8 C307.83,355.7 307.15,356.57 306.6,357.6 C306.05,358.63 305.5,360.03 305.3,361 C305.1,361.97 305.18,362.87 305.4,363.4 C305.62,363.93 306.22,364.22 306.6,364.2 C306.98,364.18 307.37,363.73 307.7,363.3 C308.03,362.87 308.45,361.52 308.6,361.6 C308.75,361.68 308.73,362.97 308.6,363.8 C308.47,364.63 308.02,365.63 307.8,366.6 C307.58,367.57 307.33,368.73 307.3,369.6 C307.27,370.47 307.32,371.25 307.6,371.8 C307.88,372.35 308.47,372.58 309,372.9 C309.53,373.22 310.17,373.45 310.8,373.7 C311.43,373.95 312.15,374.23 312.8,374.4 C313.45,374.57 314.08,374.78 314.7,374.7 C315.32,374.62 315.95,374.3 316.5,373.9 C317.05,373.5 317.57,372.95 318,372.3 C318.43,371.65 318.7,371 319.1,370 C319.5,369 320,367.8 320.4,366.3 C320.8,364.8 321.22,363.05 321.5,361 C321.78,358.95 321.88,356.08 322.1,354 C322.32,351.92 322.45,350.17 322.8,348.5 C323.15,346.83 323.72,345.42 324.2,344 C324.68,342.58 325.15,341.5 325.7,340 C326.25,338.5 326.98,336.67 327.5,335 C328.02,333.33 328.4,332.17 328.8,330 C329.2,327.83 329.55,324.83 329.9,322 C330.25,319.17 330.63,315.5 330.9,313 C331.17,310.5 331.35,308.75 331.5,307 C331.65,305.25 331.6,302.5 331.8,302.5 C332,302.5 332.28,305.15 332.7,307 C333.12,308.85 333.82,311.1 334.3,313.6 C334.78,316.1 335.37,318.77 335.6,322 C335.83,325.23 335.77,330 335.7,333 C335.63,336 335.35,338.07 335.2,340 C335.05,341.93 334.97,342.93 334.8,344.6 C334.63,346.27 334.4,347.85 334.2,350 C334,352.15 333.77,355.17 333.6,357.5 C333.43,359.83 333.28,362.12 333.2,364 C333.12,365.88 333.08,366.47 333.1,368.8 C333.12,371.13 333.17,375.13 333.3,378 C333.43,380.87 333.62,383.67 333.9,386 C334.18,388.33 334.55,390.08 335,392 C335.45,393.92 336,395.5 336.6,397.5 C337.2,399.5 338.27,402.33 338.6,404 C338.93,405.67 338.82,406.33 338.6,407.5 C338.38,408.67 337.63,409.75 337.3,411 C336.97,412.25 336.68,413.5 336.6,415 C336.52,416.5 336.67,418.42 336.8,420 C336.93,421.58 336.98,422.17 337.4,424.5 C337.82,426.83 338.73,430.83 339.3,434 C339.87,437.17 340.5,440.58 340.8,443.5 C341.1,446.42 341.3,449.67 341.1,451.5 C340.9,453.33 340.13,453.55 339.6,454.5 C339.07,455.45 338.48,456.2 337.9,457.2 C337.32,458.2 336.43,459.4 336.1,460.5 C335.77,461.6 335.7,462.8 335.9,463.8 C336.1,464.8 336.48,465.83 337.3,466.5 C338.12,467.17 339.53,467.67 340.8,467.8 C342.07,467.93 343.73,467.77 344.9,467.3 C346.07,466.83 347.13,466.05 347.8,465 C348.47,463.95 348.6,462.17 348.9,461 C349.2,459.83 349.28,458.83 349.6,458 C349.92,457.17 350.47,456.75 350.8,456 C351.13,455.25 351.45,455.33 351.6,453.5 C351.75,451.67 351.72,448.58 351.7,445 C351.68,441.42 351.57,436.17 351.5,432 C351.43,427.83 351.28,425 351.3,420 C351.32,415 351.45,407.83 351.6,402 C351.75,396.17 352.03,390.33 352.2,385 C352.37,379.67 352.45,373.92 352.6,370 C352.75,366.08 353.02,362.92 353.1,361.5" fill="none" stroke="#1e1e1e" stroke-width="1" stroke-linejoin="round" stroke-linecap="round"/>
<path d="M353.3,236.8 C354.15,236.95 356.95,237.08 358.4,237.7 C359.85,238.32 361.1,239.28 362,240.5 C362.9,241.72 363.45,243.25 363.8,245 C364.15,246.75 364.08,249 364.1,251 C364.12,253 364,255.33 363.9,257 C363.8,258.67 363.77,259.7 363.5,261 C363.23,262.3 362.72,263.7 362.3,264.8 C361.88,265.9 361.2,266.57 361,267.6 C360.8,268.63 361.08,269.93 361.1,271 C361.12,272.07 360.43,273.07 361.1,274 C361.77,274.93 363.43,275.83 365.1,276.6 C366.77,277.37 369.1,278.03 371.1,278.6 C373.1,279.17 375.43,279.43 377.1,280 C378.77,280.57 379.95,281.17 381.1,282 C382.25,282.83 383.3,283.67 384,285 C384.7,286.33 385,288.17 385.3,290 C385.6,291.83 385.6,294 385.8,296 C386,298 386.25,299.33 386.5,302 C386.75,304.67 387.05,308.9 387.3,312 C387.55,315.1 387.6,318.1 388,320.6 C388.4,323.1 389.25,324.93 389.7,327 C390.15,329.07 390.47,330.83 390.7,333 C390.93,335.17 390.98,337.4 391.1,340 C391.22,342.6 391.08,346.88 391.4,348.6 C391.72,350.32 392.33,349.7 393,350.3 C393.67,350.9 394.57,351.45 395.4,352.2 C396.23,352.95 397.23,353.9 398,354.8 C398.77,355.7 399.45,356.57 400,357.6 C400.55,358.63 401.1,360.03 401.3,361 C401.5,361.97 401.42,362.87 401.2,363.4 C400.98,363.93 400.38,364.22 400,364.2 C399.62,364.18 399.23,363.73 398.9,363.3 C398.57,362.87 398.15,361.52 398,361.6 C397.85,361.68 397.87,362.97 398,363.8 C398.13,364.63 398.58,365.63 398.8,366.6 C399.02,367.57 399.27,368.73 399.3,369.6 C399.33,370.47 399.28,371.25 399,371.8 C398.72,372.35 398.13,372.58 397.6,372.9 C397.07,373.22 396.43,373.45 395.8,373.7 C395.17,373.95 394.45,374.23 393.8,374.4 C393.15,374.57 392.52,374.78 391.9,374.7 C391.28,374.62 390.65,374.3 390.1,373.9 C389.55,373.5 389.03,372.95 388.6,372.3 C388.17,371.65 387.9,371 387.5,370 C387.1,369 386.6,367.8 386.2,366.3 C385.8,364.8 385.38,363.05 385.1,361 C384.82,358.95 384.72,356.08 384.5,354 C384.28,351.92 384.15,350.17 383.8,348.5 C383.45,346.83 382.88,345.42 382.4,344 C381.92,342.58 381.45,341.5 380.9,340 C380.35,338.5 379.62,336.67 379.1,335 C378.58,333.33 378.2,332.17 377.8,330 C377.4,327.83 377.05,324.83 376.7,322 C376.35,319.17 375.97,315.5 375.7,313 C375.43,310.5 375.25,308.75 375.1,307 C374.95,305.25 375,302.5 374.8,302.5 C374.6,302.5 374.32,305.15 373.9,307 C373.48,308.85 372.78,311.1 372.3,313.6 C371.82,316.1 371.23,318.77 371,322 C370.77,325.23 370.83,330 370.9,333 C370.97,336 371.25,338.07 371.4,340 C371.55,341.93 371.63,342.93 371.8,344.6 C371.97,346.27 372.2,347.85 372.4,350 C372.6,352.15 372.83,355.17 373,357.5 C373.17,359.83 373.32,362.12 373.4,364 C373.48,365.88 373.52,366.47 373.5,368.8 C373.48,371.13 373.43,375.13 373.3,378 C373.17,380.87 372.98,383.67 372.7,386 C372.42,388.33 372.05,390.08 371.6,392 C371.15,393.92 370.6,395.5 370,397.5 C369.4,399.5 368.33,402.33 368,404 C367.67,405.67 367.78,406.33 368,407.5 C368.22,408.67 368.97,409.75 369.3,411 C369.63,412.25 369.92,413.5 370,415 C370.08,416.5 369.93,418.42 369.8,420 C369.67,421.58 369.62,422.17 369.2,424.5 C368.78,426.83 367.87,430.83 367.3,434 C366.73,437.17 366.1,440.58 365.8,443.5 C365.5,446.42 365.3,449.67 365.5,451.5 C365.7,453.33 366.47,453.55 367,454.5 C367.53,455.45 368.12,456.2 368.7,457.2 C369.28,458.2 370.17,459.4 370.5,460.5 C370.83,461.6 370.9,462.8 370.7,463.8 C370.5,464.8 370.12,465.83 369.3,466.5 C368.48,467.17 367.07,467.67 365.8,467.8 C364.53,467.93 362.87,467.77 361.7,467.3 C360.53,466.83 359.47,466.05 358.8,465 C358.13,463.95 358,462.17 357.7,461 C357.4,459.83 357.32,458.83 357,458 C356.68,457.17 356.13,456.75 355.8,456 C355.47,455.25 355.15,455.33 355,453.5 C354.85,451.67 354.88,448.58 354.9,445 C354.92,441.42 355.03,436.17 355.1,432 C355.17,427.83 355.32,425 355.3,420 C355.28,415 355.15,407.83 355,402 C354.85,396.17 354.57,390.33 354.4,385 C354.23,379.67 354.15,373.92 354,370 C353.85,366.08 353.58,362.92 353.5,361.5" fill="none" stroke="#1e1e1e" stroke-width="1" stroke-linejoin="round" stroke-linecap="round"/>
<path d="M342.9,252.2 C342.62,252.22 341.72,251.97 341.2,252.3 C340.68,252.63 339.97,253.33 339.8,254.2 C339.63,255.07 339.9,256.53 340.2,257.5 C340.5,258.47 341.13,259.38 341.6,260 C342.07,260.62 342.77,261 343,261.2" fill="none" stroke="#1e1e1e" stroke-width="1" stroke-linejoin="round" stroke-linecap="round"/>
<path d="M363.7,252.2 C363.98,252.22 364.88,251.97 365.4,252.3 C365.92,252.63 366.63,253.33 366.8,254.2 C366.97,255.07 366.7,256.53 366.4,257.5 C366.1,258.47 365.47,259.38 365,260 C364.53,260.62 363.83,261 363.6,261.2" fill="none" stroke="#1e1e1e" stroke-width="1" stroke-linejoin="round" stroke-linecap="round"/>
<path d="M350.1,271.4 Q353.3,273.6 356.5,271.4" fill="none" stroke="#1e1e1e" stroke-width="1" stroke-linejoin="round" stroke-linecap="round"/>
<path d="M339.1,280.3 C340,280.35 342.7,280.37 344.5,280.6 C346.3,280.83 349,281.52 349.9,281.7" fill="none" stroke="#1e1e1e" stroke-width="1" stroke-linejoin="round" stroke-linecap="round"/>
<path d="M331.9,304.2 C332.33,304.7 333.4,306.4 334.5,307.2 C335.6,308 337,308.63 338.5,309 C340,309.37 341.8,309.57 343.5,309.4 C345.2,309.23 347.83,308.23 348.7,308" fill="none" stroke="#1e1e1e" stroke-width="1" stroke-linejoin="round" stroke-linecap="round"/>
<path d="M309.7,364.8 C309.52,365.93 308.78,370.47 308.6,371.6" fill="none" stroke="#1e1e1e" stroke-width="0.7" stroke-linejoin="round" stroke-linecap="round"/>
<path d="M311.9,365.5 C311.67,366.72 310.73,371.58 310.5,372.8" fill="none" stroke="#1e1e1e" stroke-width="0.7" stroke-linejoin="round" stroke-linecap="round"/>
<path d="M314.1,365.6 C313.87,366.93 312.93,372.27 312.7,373.6" fill="none" stroke="#1e1e1e" stroke-width="0.7" stroke-linejoin="round" stroke-linecap="round"/>
<path d="M316.6,365.6 C316.35,366.9 315.35,372.1 315.1,373.4" fill="none" stroke="#1e1e1e" stroke-width="0.7" stroke-linejoin="round" stroke-linecap="round"/>
<path d="M314.2,357.3 C314.45,357.22 315.2,357.18 315.7,356.8 C316.2,356.42 316.95,355.3 317.2,355" fill="none" stroke="#1e1e1e" stroke-width="0.7" stroke-linejoin="round" stroke-linecap="round"/>
<path d="M367.5,280.3 C366.6,280.35 363.9,280.37 362.1,280.6 C360.3,280.83 357.6,281.52 356.7,281.7" fill="none" stroke="#1e1e1e" stroke-width="1" stroke-linejoin="round" stroke-linecap="round"/>
<path d="M374.7,304.2 C374.27,304.7 373.2,306.4 372.1,307.2 C371,308 369.6,308.63 368.1,309 C366.6,309.37 364.8,309.57 363.1,309.4 C361.4,309.23 358.77,308.23 357.9,308" fill="none" stroke="#1e1e1e" stroke-width="1" stroke-linejoin="round" stroke-linecap="round"/>
<path d="M396.9,364.8 C397.08,365.93 397.82,370.47 398,371.6" fill="none" stroke="#1e1e1e" stroke-width="0.7" stroke-linejoin="round" stroke-linecap="round"/>
<path d="M394.7,365.5 C394.93,366.72 395.87,371.58 396.1,372.8" fill="none" stroke="#1e1e1e" stroke-width="0.7" stroke-linejoin="round" stroke-linecap="round"/>
<path d="M392.5,365.6 C392.73,366.93 393.67,372.27 393.9,373.6" fill="none" stroke="#1e1e1e" stroke-width="0.7" stroke-linejoin="round" stroke-linecap="round"/>
<path d="M390,365.6 C390.25,366.9 391.25,372.1 391.5,373.4" fill="none" stroke="#1e1e1e" stroke-width="0.7" stroke-linejoin="round" stroke-linecap="round"/>
<path d="M392.4,357.3 C392.15,357.22 391.4,357.18 390.9,356.8 C390.4,356.42 389.65,355.3 389.4,355" fill="none" stroke="#1e1e1e" stroke-width="0.7" stroke-linejoin="round" stroke-linecap="round"/>
<path d="M353.5,291.2 L353.5,303.6" fill="none" stroke="#1e1e1e" stroke-width="1" stroke-linejoin="round" stroke-linecap="round"/>
<path d="M334.8,344.3 Q353.3,347.6 371.8,344.3" fill="none" stroke="#1e1e1e" stroke-width="1" stroke-linejoin="round" stroke-linecap="round"/>
<path d="M333.1,368.8 Q342.8,370.4 352.5,368.9" fill="none" stroke="#1e1e1e" stroke-width="1" stroke-linejoin="round" stroke-linecap="round"/>
<path d="M354.1,368.9 Q363.8,370.4 373.5,368.8" fill="none" stroke="#1e1e1e" stroke-width="1" stroke-linejoin="round" stroke-linecap="round"/>
<path d="M455,236.8 C454.13,236.95 451.27,237.08 449.8,237.7 C448.33,238.32 447.15,239.28 446.2,240.5 C445.25,241.72 444.52,243.25 444.1,245 C443.68,246.75 443.73,249 443.7,251 C443.67,253 443.78,255.33 443.9,257 C444.02,258.67 444.15,259.75 444.4,261 C444.65,262.25 445.03,263.4 445.4,264.5 C445.77,265.6 446.23,266.72 446.6,267.6 C446.97,268.48 447.43,269.07 447.6,269.8 C447.77,270.53 447.68,271.37 447.6,272 C447.52,272.63 447.62,273 447.1,273.6 C446.58,274.2 445.53,275 444.5,275.6 C443.47,276.2 442.23,276.72 440.9,277.2 C439.57,277.68 438.02,278.1 436.5,278.5 C434.98,278.9 433.28,279.05 431.8,279.6 C430.32,280.15 428.77,280.9 427.6,281.8 C426.43,282.7 425.5,283.8 424.8,285 C424.1,286.2 423.73,287.17 423.4,289 C423.07,290.83 423,293.83 422.8,296 C422.6,298.17 422.48,299.33 422.2,302 C421.92,304.67 421.48,308.67 421.1,312 C420.72,315.33 420.32,319.33 419.9,322 C419.48,324.67 419.02,326 418.6,328 C418.18,330 417.68,332 417.4,334 C417.12,336 417.05,337.57 416.9,340 C416.75,342.43 416.83,346.88 416.5,348.6 C416.17,350.32 415.57,349.7 414.9,350.3 C414.23,350.9 413.33,351.45 412.5,352.2 C411.67,352.95 410.67,353.9 409.9,354.8 C409.13,355.7 408.45,356.57 407.9,357.6 C407.35,358.63 406.8,360.03 406.6,361 C406.4,361.97 406.48,362.87 406.7,363.4 C406.92,363.93 407.52,364.22 407.9,364.2 C408.28,364.18 408.67,363.73 409,363.3 C409.33,362.87 409.75,361.52 409.9,361.6 C410.05,361.68 410.03,362.97 409.9,363.8 C409.77,364.63 409.32,365.63 409.1,366.6 C408.88,367.57 408.63,368.73 408.6,369.6 C408.57,370.47 408.62,371.25 408.9,371.8 C409.18,372.35 409.77,372.58 410.3,372.9 C410.83,373.22 411.47,373.45 412.1,373.7 C412.73,373.95 413.45,374.23 414.1,374.4 C414.75,374.57 415.38,374.78 416,374.7 C416.62,374.62 417.25,374.3 417.8,373.9 C418.35,373.5 418.87,372.95 419.3,372.3 C419.73,371.65 420,371 420.4,370 C420.8,369 421.3,367.8 421.7,366.3 C422.1,364.8 422.52,363.05 422.8,361 C423.08,358.95 423.18,356.08 423.4,354 C423.62,351.92 423.75,350.17 424.1,348.5 C424.45,346.83 425.02,345.42 425.5,344 C425.98,342.58 426.45,341.5 427,340 C427.55,338.5 428.28,336.67 428.8,335 C429.32,333.33 429.7,332.17 430.1,330 C430.5,327.83 430.85,324.83 431.2,322 C431.55,319.17 431.93,315.5 432.2,313 C432.47,310.5 432.65,308.75 432.8,307 C432.95,305.25 432.85,302.42 433.1,302.5 C433.35,302.58 433.82,305.58 434.3,307.5 C434.78,309.42 435.52,311.58 436,314 C436.48,316.42 436.95,318.83 437.2,322 C437.45,325.17 437.47,330 437.5,333 C437.53,336 437.45,338.17 437.4,340 C437.35,341.83 437.38,342.33 437.2,344 C437.02,345.67 436.6,347.83 436.3,350 C436,352.17 435.68,354.7 435.4,357 C435.12,359.3 434.75,361.3 434.6,363.8 C434.45,366.3 434.5,369.38 434.5,372 C434.5,374.62 434.47,377.17 434.6,379.5 C434.73,381.83 434.98,383.92 435.3,386 C435.62,388.08 436.05,390 436.5,392 C436.95,394 437.52,396.13 438,398 C438.48,399.87 439.1,401.6 439.4,403.2 C439.7,404.8 439.8,406.22 439.8,407.6 C439.8,408.98 439.52,410.27 439.4,411.5 C439.28,412.73 439.13,413.25 439.1,415 C439.07,416.75 439.12,419.83 439.2,422 C439.28,424.17 439.3,425.83 439.6,428 C439.9,430.17 440.5,432.78 441,435 C441.5,437.22 442.1,439.3 442.6,441.3 C443.1,443.3 443.65,445.25 444,447 C444.35,448.75 444.6,450 444.7,451.8 C444.8,453.6 444.98,456.63 444.6,457.8 C444.22,458.97 443.12,458.4 442.4,458.8 C441.68,459.2 440.98,459.58 440.3,460.2 C439.62,460.82 438.58,461.73 438.3,462.5 C438.02,463.27 438.22,464.18 438.6,464.8 C438.98,465.42 439.37,465.73 440.6,466.2 C441.83,466.67 444.27,467.27 446,467.6 C447.73,467.93 449.73,468.27 451,468.2 C452.27,468.13 453,467.73 453.6,467.2 C454.2,466.67 454.37,465.87 454.6,465 C454.83,464.13 455.02,462.92 455,462 C454.98,461.08 454.7,460.33 454.5,459.5 C454.3,458.67 454.03,458.58 453.8,457 C453.57,455.42 453.23,452.83 453.1,450 C452.97,447.17 452.97,443.33 453,440 C453.03,436.67 453.17,433.33 453.3,430 C453.43,426.67 453.7,423 453.8,420 C453.9,417 454,414.5 453.9,412 C453.8,409.5 453.4,407.2 453.2,405 C453,402.8 452.73,401.3 452.7,398.8 C452.67,396.3 452.87,392.92 453,390 C453.13,387.08 453.33,384.3 453.5,381.3 C453.67,378.3 453.85,374.78 454,372 C454.15,369.22 454.23,366.03 454.4,364.6 C454.57,363.17 454.9,363.6 455,363.4" fill="none" stroke="#1e1e1e" stroke-width="1" stroke-linejoin="round" stroke-linecap="round"/>
<path d="M455,236.8 C455.87,236.95 458.73,237.08 460.2,237.7 C461.67,238.32 462.85,239.28 463.8,240.5 C464.75,241.72 465.48,243.25 465.9,245 C466.32,246.75 466.27,249 466.3,251 C466.33,253 466.22,255.33 466.1,257 C465.98,258.67 465.85,259.75 465.6,261 C465.35,262.25 464.97,263.4 464.6,264.5 C464.23,265.6 463.77,266.72 463.4,267.6 C463.03,268.48 462.57,269.07 462.4,269.8 C462.23,270.53 462.32,271.37 462.4,272 C462.48,272.63 462.38,273 462.9,273.6 C463.42,274.2 464.47,275 465.5,275.6 C466.53,276.2 467.77,276.72 469.1,277.2 C470.43,277.68 471.98,278.1 473.5,278.5 C475.02,278.9 476.72,279.05 478.2,279.6 C479.68,280.15 481.23,280.9 482.4,281.8 C483.57,282.7 484.5,283.8 485.2,285 C485.9,286.2 486.27,287.17 486.6,289 C486.93,290.83 487,293.83 487.2,296 C487.4,298.17 487.52,299.33 487.8,302 C488.08,304.67 488.52,308.67 488.9,312 C489.28,315.33 489.68,319.33 490.1,322 C490.52,324.67 490.98,326 491.4,328 C491.82,330 492.32,332 492.6,334 C492.88,336 492.95,337.57 493.1,340 C493.25,342.43 493.17,346.88 493.5,348.6 C493.83,350.32 494.43,349.7 495.1,350.3 C495.77,350.9 496.67,351.45 497.5,352.2 C498.33,352.95 499.33,353.9 500.1,354.8 C500.87,355.7 501.55,356.57 502.1,357.6 C502.65,358.63 503.2,360.03 503.4,361 C503.6,361.97 503.52,362.87 503.3,363.4 C503.08,363.93 502.48,364.22 502.1,364.2 C501.72,364.18 501.33,363.73 501,363.3 C500.67,362.87 500.25,361.52 500.1,361.6 C499.95,361.68 499.97,362.97 500.1,363.8 C500.23,364.63 500.68,365.63 500.9,366.6 C501.12,367.57 501.37,368.73 501.4,369.6 C501.43,370.47 501.38,371.25 501.1,371.8 C500.82,372.35 500.23,372.58 499.7,372.9 C499.17,373.22 498.53,373.45 497.9,373.7 C497.27,373.95 496.55,374.23 495.9,374.4 C495.25,374.57 494.62,374.78 494,374.7 C493.38,374.62 492.75,374.3 492.2,373.9 C491.65,373.5 491.13,372.95 490.7,372.3 C490.27,371.65 490,371 489.6,370 C489.2,369 488.7,367.8 488.3,366.3 C487.9,364.8 487.48,363.05 487.2,361 C486.92,358.95 486.82,356.08 486.6,354 C486.38,351.92 486.25,350.17 485.9,348.5 C485.55,346.83 484.98,345.42 484.5,344 C484.02,342.58 483.55,341.5 483,340 C482.45,338.5 481.72,336.67 481.2,335 C480.68,333.33 480.3,332.17 479.9,330 C479.5,327.83 479.15,324.83 478.8,322 C478.45,319.17 478.07,315.5 477.8,313 C477.53,310.5 477.35,308.75 477.2,307 C477.05,305.25 477.15,302.42 476.9,302.5 C476.65,302.58 476.18,305.58 475.7,307.5 C475.22,309.42 474.48,311.58 474,314 C473.52,316.42 473.05,318.83 472.8,322 C472.55,325.17 472.53,330 472.5,333 C472.47,336 472.55,338.17 472.6,340 C472.65,341.83 472.62,342.33 472.8,344 C472.98,345.67 473.4,347.83 473.7,350 C474,352.17 474.32,354.7 474.6,357 C474.88,359.3 475.25,361.3 475.4,363.8 C475.55,366.3 475.5,369.38 475.5,372 C475.5,374.62 475.53,377.17 475.4,379.5 C475.27,381.83 475.02,383.92 474.7,386 C474.38,388.08 473.95,390 473.5,392 C473.05,394 472.48,396.13 472,398 C471.52,399.87 470.9,401.6 470.6,403.2 C470.3,404.8 470.2,406.22 470.2,407.6 C470.2,408.98 470.48,410.27 470.6,411.5 C470.72,412.73 470.87,413.25 470.9,415 C470.93,416.75 470.88,419.83 470.8,422 C470.72,424.17 470.7,425.83 470.4,428 C470.1,430.17 469.5,432.78 469,435 C468.5,437.22 467.9,439.3 467.4,441.3 C466.9,443.3 466.35,445.25 466,447 C465.65,448.75 465.4,450 465.3,451.8 C465.2,453.6 465.02,456.63 465.4,457.8 C465.78,458.97 466.88,458.4 467.6,458.8 C468.32,459.2 469.02,459.58 469.7,460.2 C470.38,460.82 471.42,461.73 471.7,462.5 C471.98,463.27 471.78,464.18 471.4,464.8 C471.02,465.42 470.63,465.73 469.4,466.2 C468.17,466.67 465.73,467.27 464,467.6 C462.27,467.93 460.27,468.27 459,468.2 C457.73,468.13 457,467.73 456.4,467.2 C455.8,466.67 455.63,465.87 455.4,465 C455.17,464.13 454.98,462.92 455,462 C455.02,461.08 455.3,460.33 455.5,459.5 C455.7,458.67 455.97,458.58 456.2,457 C456.43,455.42 456.77,452.83 456.9,450 C457.03,447.17 457.03,443.33 457,440 C456.97,436.67 456.83,433.33 456.7,430 C456.57,426.67 456.3,423 456.2,420 C456.1,417 456,414.5 456.1,412 C456.2,409.5 456.6,407.2 456.8,405 C457,402.8 457.27,401.3 457.3,398.8 C457.33,396.3 457.13,392.92 457,390 C456.87,387.08 456.67,384.3 456.5,381.3 C456.33,378.3 456.15,374.78 456,372 C455.85,369.22 455.77,366.03 455.6,364.6 C455.43,363.17 455.1,363.6 455,363.4" fill="none" stroke="#1e1e1e" stroke-width="1" stroke-linejoin="round" stroke-linecap="round"/>
<path d="M443.9,252.6 C443.67,252.67 442.88,252.52 442.5,253 C442.12,253.48 441.65,254.63 441.6,255.5 C441.55,256.37 441.88,257.45 442.2,258.2 C442.52,258.95 443.13,259.53 443.5,260 C443.87,260.47 444.25,260.83 444.4,261" fill="none" stroke="#1e1e1e" stroke-width="1" stroke-linejoin="round" stroke-linecap="round"/>
<path d="M451.9,291.3 C451.98,291.92 452.35,293.63 452.4,295 C452.45,296.37 452.43,298.08 452.2,299.5 C451.97,300.92 451.48,302.2 451,303.5 C450.52,304.8 449.58,306.67 449.3,307.3" fill="none" stroke="#1e1e1e" stroke-width="1" stroke-linejoin="round" stroke-linecap="round"/>
<path d="M422.9,329.1 C423.28,329.28 424.42,329.95 425.2,330.2 C425.98,330.45 427.2,330.53 427.6,330.6" fill="none" stroke="#1e1e1e" stroke-width="1" stroke-linejoin="round" stroke-linecap="round"/>
<path d="M411,364.8 C410.82,365.93 410.08,370.47 409.9,371.6" fill="none" stroke="#1e1e1e" stroke-width="0.7" stroke-linejoin="round" stroke-linecap="round"/>
<path d="M413.2,365.5 C412.97,366.72 412.03,371.58 411.8,372.8" fill="none" stroke="#1e1e1e" stroke-width="0.7" stroke-linejoin="round" stroke-linecap="round"/>
<path d="M415.4,365.6 C415.17,366.93 414.23,372.27 414,373.6" fill="none" stroke="#1e1e1e" stroke-width="0.7" stroke-linejoin="round" stroke-linecap="round"/>
<path d="M417.9,365.6 C417.65,366.9 416.65,372.1 416.4,373.4" fill="none" stroke="#1e1e1e" stroke-width="0.7" stroke-linejoin="round" stroke-linecap="round"/>
<path d="M415.5,357.3 C415.75,357.22 416.5,357.18 417,356.8 C417.5,356.42 418.25,355.3 418.5,355" fill="none" stroke="#1e1e1e" stroke-width="0.7" stroke-linejoin="round" stroke-linecap="round"/>
<path d="M466.1,252.6 C466.33,252.67 467.12,252.52 467.5,253 C467.88,253.48 468.35,254.63 468.4,255.5 C468.45,256.37 468.12,257.45 467.8,258.2 C467.48,258.95 466.87,259.53 466.5,260 C466.13,260.47 465.75,260.83 465.6,261" fill="none" stroke="#1e1e1e" stroke-width="1" stroke-linejoin="round" stroke-linecap="round"/>
<path d="M458.1,291.3 C458.02,291.92 457.65,293.63 457.6,295 C457.55,296.37 457.57,298.08 457.8,299.5 C458.03,300.92 458.52,302.2 459,303.5 C459.48,304.8 460.42,306.67 460.7,307.3" fill="none" stroke="#1e1e1e" stroke-width="1" stroke-linejoin="round" stroke-linecap="round"/>
<path d="M487.1,329.1 C486.72,329.28 485.58,329.95 484.8,330.2 C484.02,330.45 482.8,330.53 482.4,330.6" fill="none" stroke="#1e1e1e" stroke-width="1" stroke-linejoin="round" stroke-linecap="round"/>
<path d="M499,364.8 C499.18,365.93 499.92,370.47 500.1,371.6" fill="none" stroke="#1e1e1e" stroke-width="0.7" stroke-linejoin="round" stroke-linecap="round"/>
<path d="M496.8,365.5 C497.03,366.72 497.97,371.58 498.2,372.8" fill="none" stroke="#1e1e1e" stroke-width="0.7" stroke-linejoin="round" stroke-linecap="round"/>
<path d="M494.6,365.6 C494.83,366.93 495.77,372.27 496,373.6" fill="none" stroke="#1e1e1e" stroke-width="0.7" stroke-linejoin="round" stroke-linecap="round"/>
<path d="M492.1,365.6 C492.35,366.9 493.35,372.1 493.6,373.4" fill="none" stroke="#1e1e1e" stroke-width="0.7" stroke-linejoin="round" stroke-linecap="round"/>
<path d="M494.5,357.3 C494.25,357.22 493.5,357.18 493,356.8 C492.5,356.42 491.75,355.3 491.5,355" fill="none" stroke="#1e1e1e" stroke-width="0.7" stroke-linejoin="round" stroke-linecap="round"/>
<path d="M455.5,313.6 L455.5,334.5" fill="none" stroke="#1e1e1e" stroke-width="1" stroke-linejoin="round" stroke-linecap="round"/>
<path d="M437.2,343.4 Q455,346.4 472.8,343.4" fill="none" stroke="#1e1e1e" stroke-width="1" stroke-linejoin="round" stroke-linecap="round"/>
<path d="M434.6,363.8 C435.17,364.17 436.68,365.47 438,366 C439.32,366.53 441,366.87 442.5,367 C444,367.13 445.58,367.03 447,366.8 C448.42,366.57 449.67,366.17 451,365.6 C452.33,365.03 454.33,363.77 455,363.4" fill="none" stroke="#1e1e1e" stroke-width="1" stroke-linejoin="round" stroke-linecap="round"/>
<path d="M475.4,363.8 C474.83,364.17 473.32,365.47 472,366 C470.68,366.53 469,366.87 467.5,367 C466,367.13 464.42,367.03 463,366.8 C461.58,366.57 460.33,366.17 459,365.6 C457.67,365.03 455.67,363.77 455,363.4" fill="none" stroke="#1e1e1e" stroke-width="1" stroke-linejoin="round" stroke-linecap="round"/>
<text x="536" y="269" font-size="27" font-weight="bold" text-anchor="start" fill="#111">f</text>
<line x1="590.3" y1="284.3" x2="590.3" y2="423.4" stroke="#111" stroke-width="2"/>
<line x1="589.3" y1="422.4" x2="683" y2="422.4" stroke="#111" stroke-width="2"/>
<line x1="584.5" y1="422.4" x2="590.3" y2="422.4" stroke="#111" stroke-width="1.8"/>
<text x="0" y="0" font-size="9.7" font-weight="bold" text-anchor="end" fill="#111" transform="translate(582.6 425.9) scale(1.03 1)">0</text>
<line x1="584.5" y1="388.03" x2="590.3" y2="388.03" stroke="#111" stroke-width="1.8"/>
<text x="0" y="0" font-size="9.7" font-weight="bold" text-anchor="end" fill="#111" transform="translate(582.6 391.53) scale(1.03 1)">10</text>
<line x1="584.5" y1="353.66" x2="590.3" y2="353.66" stroke="#111" stroke-width="1.8"/>
<text x="0" y="0" font-size="9.7" font-weight="bold" text-anchor="end" fill="#111" transform="translate(582.6 357.16) scale(1.03 1)">20</text>
<line x1="584.5" y1="319.29" x2="590.3" y2="319.29" stroke="#111" stroke-width="1.8"/>
<text x="0" y="0" font-size="9.7" font-weight="bold" text-anchor="end" fill="#111" transform="translate(582.6 322.79) scale(1.03 1)">30</text>
<line x1="584.5" y1="284.92" x2="590.3" y2="284.92" stroke="#111" stroke-width="1.8"/>
<text x="0" y="0" font-size="9.7" font-weight="bold" text-anchor="end" fill="#111" transform="translate(582.6 288.42) scale(1.03 1)">40</text>
<text x="552" y="353.5" font-size="11" font-weight="bold" text-anchor="middle" fill="#111" transform="rotate(-90 552 353.5)">Landings</text>
<line x1="616.6" y1="422" x2="616.6" y2="428" stroke="#111" stroke-width="1.8"/>
<text x="616.6" y="440" font-size="10.2" font-weight="bold" text-anchor="middle" fill="#111">White</text>
<line x1="656" y1="422" x2="656" y2="428" stroke="#111" stroke-width="1.8"/>
<text x="656" y="440" font-size="10.2" font-weight="bold" text-anchor="middle" fill="#111">Black</text>
<line x1="603.6" y1="394.4" x2="629.6" y2="394.4" stroke="#111" stroke-width="2"/>
<line x1="616.6" y1="379" x2="616.6" y2="409.4" stroke="#111" stroke-width="2"/>
<line x1="611" y1="379" x2="623" y2="379" stroke="#111" stroke-width="2"/>
<line x1="611" y1="409.4" x2="623" y2="409.4" stroke="#111" stroke-width="2"/>
<circle cx="612.4" cy="377.6" r="2.0" fill="#fff" stroke="#111" stroke-width="1.3"/>
<circle cx="621" cy="381.6" r="2.0" fill="#fff" stroke="#111" stroke-width="1.3"/>
<circle cx="616.6" cy="395" r="2.0" fill="#fff" stroke="#111" stroke-width="1.3"/>
<circle cx="616.6" cy="405" r="2.0" fill="#fff" stroke="#111" stroke-width="1.3"/>
<circle cx="616.6" cy="412.4" r="2.0" fill="#fff" stroke="#111" stroke-width="1.3"/>
<line x1="643" y1="320" x2="669.5" y2="320" stroke="#111" stroke-width="2"/>
<line x1="656" y1="293.6" x2="656" y2="346.4" stroke="#111" stroke-width="2"/>
<line x1="649.6" y1="293.6" x2="662.4" y2="293.6" stroke="#111" stroke-width="2"/>
<line x1="649.6" y1="346.4" x2="662.4" y2="346.4" stroke="#111" stroke-width="2"/>
<circle cx="656" cy="295.6" r="2" fill="#111"/>
<circle cx="656" cy="305.6" r="2" fill="#111"/>
<circle cx="651.4" cy="316" r="2" fill="#111"/>
<circle cx="660" cy="319.4" r="2" fill="#111"/>
<circle cx="656" cy="364" r="2" fill="#111"/>
<polyline points="614.4,278.6 614.4,276 656.4,276 656.4,278.6" fill="none" stroke="#111" stroke-width="1.7"/>
<path d="M635.6,267.5L635.6,273.7M632.92,269.05L638.28,272.15M632.92,272.15L638.28,269.05" stroke="#333" stroke-width="1" fill="none"/>
<text x="275" y="498.7" font-size="27" font-weight="bold" text-anchor="start" fill="#111">g</text>
<rect x="385.6" y="504.4" width="229.8" height="131.9" fill="none" stroke="#222" stroke-width="1.1"/>
<line x1="381.6" y1="631.2" x2="385.6" y2="631.2" stroke="#222" stroke-width="1.1"/>
<text x="380" y="634.2" font-size="10.8" font-weight="bold" text-anchor="end" font-style="italic" fill="#111">0</text>
<line x1="381.6" y1="598.75" x2="385.6" y2="598.75" stroke="#222" stroke-width="1.1"/>
<text x="378.7" y="603.15" font-size="10.8" font-weight="bold" text-anchor="end" font-style="italic" fill="#111">10000</text>
<line x1="381.6" y1="566.3" x2="385.6" y2="566.3" stroke="#222" stroke-width="1.1"/>
<text x="378.7" y="570.7" font-size="10.8" font-weight="bold" text-anchor="end" font-style="italic" fill="#111">20000</text>
<line x1="381.6" y1="533.85" x2="385.6" y2="533.85" stroke="#222" stroke-width="1.1"/>
<text x="378.7" y="538.25" font-size="10.8" font-weight="bold" text-anchor="end" font-style="italic" fill="#111">30000</text>
<line x1="393.4" y1="636.3" x2="393.4" y2="640" stroke="#222" stroke-width="1.1"/>
<text x="393.4" y="650" font-size="10.8" font-weight="bold" text-anchor="middle" fill="#111">0</text>
<line x1="423.9" y1="636.3" x2="423.9" y2="640" stroke="#222" stroke-width="1.1"/>
<text x="423.9" y="650" font-size="10.8" font-weight="bold" text-anchor="middle" fill="#111">50</text>
<line x1="454.4" y1="636.3" x2="454.4" y2="640" stroke="#222" stroke-width="1.1"/>
<text x="454.4" y="650" font-size="10.8" font-weight="bold" text-anchor="middle" fill="#111">100</text>
<line x1="484.9" y1="636.3" x2="484.9" y2="640" stroke="#222" stroke-width="1.1"/>
<text x="484.9" y="650" font-size="10.8" font-weight="bold" text-anchor="middle" fill="#111">150</text>
<line x1="515.4" y1="636.3" x2="515.4" y2="640" stroke="#222" stroke-width="1.1"/>
<text x="515.4" y="650" font-size="10.8" font-weight="bold" text-anchor="middle" fill="#111">200</text>
<line x1="545.9" y1="636.3" x2="545.9" y2="640" stroke="#222" stroke-width="1.1"/>
<text x="545.9" y="650" font-size="10.8" font-weight="bold" text-anchor="middle" fill="#111">250</text>
<line x1="576.4" y1="636.3" x2="576.4" y2="640" stroke="#222" stroke-width="1.1"/>
<text x="576.4" y="650" font-size="10.8" font-weight="bold" text-anchor="middle" fill="#111">300</text>
<line x1="606.9" y1="636.3" x2="606.9" y2="640" stroke="#222" stroke-width="1.1"/>
<text x="606.9" y="650" font-size="10.8" font-weight="bold" text-anchor="middle" fill="#111">350</text>
<text x="493" y="663.6" font-size="11.2" font-weight="bold" text-anchor="middle" fill="#111">Time (days)</text>
<text x="338.2" y="580" font-size="11.2" font-weight="bold" text-anchor="middle" font-style="italic" fill="#111" transform="rotate(-90 338.2 580)">Infected Humans</text>
<polyline points="393.4,630.9 393.7,630.9 394.01,630.9 394.31,630.9 394.62,630.9 394.92,630.9 395.23,630.9 395.53,630.9 395.84,630.9 396.14,630.9 396.45,630.9 396.75,630.9 397.06,630.9 397.36,630.9 397.67,630.9 397.97,630.9 398.28,630.9 398.58,630.9 398.89,630.9 399.19,630.9 399.5,630.9 399.8,630.9 400.11,630.89 400.41,630.89 400.72,630.89 401.02,630.89 401.33,630.89 401.63,630.89 401.94,630.89 402.25,630.89 402.55,630.89 402.85,630.89 403.16,630.89 403.46,630.89 403.77,630.89 404.07,630.89 404.38,630.89 404.69,630.89 404.99,630.88 405.29,630.88 405.6,630.88 405.9,630.88 406.21,630.88 406.51,630.88 406.82,630.88 407.12,630.88 407.43,630.88 407.73,630.88 408.04,630.88 408.34,630.87 408.65,630.87 408.95,630.87 409.26,630.87 409.56,630.87 409.87,630.87 410.17,630.87 410.48,630.87 410.78,630.87 411.09,630.86 411.39,630.86 411.7,630.86 412,630.86 412.31,630.86 412.61,630.86 412.92,630.86 413.22,630.86 413.53,630.85 413.83,630.85 414.14,630.85 414.44,630.85 414.75,630.85 415.05,630.85 415.36,630.85 415.66,630.85 415.97,630.84 416.27,630.84 416.58,630.84 416.88,630.84 417.19,630.84 417.5,630.84 417.8,630.84 418.1,630.83 418.41,630.83 418.71,630.83 419.02,630.83 419.32,630.82 419.63,630.82 419.94,630.82 420.24,630.82 420.54,630.81 420.85,630.81 421.15,630.81 421.46,630.8 421.76,630.8 422.07,630.79 422.38,630.79 422.68,630.78 422.98,630.78 423.29,630.77 423.59,630.77 423.9,630.76 424.2,630.76 424.51,630.75 424.81,630.75 425.12,630.74 425.42,630.74 425.73,630.73 426.03,630.72 426.34,630.72 426.64,630.71 426.95,630.71 427.25,630.7 427.56,630.69 427.86,630.69 428.17,630.68 428.47,630.67 428.78,630.67 429.08,630.66 429.39,630.65 429.69,630.65 430,630.64 430.3,630.63 430.61,630.63 430.91,630.62 431.22,630.61 431.52,630.6 431.83,630.6 432.13,630.59 432.44,630.58 432.75,630.57 433.05,630.56 433.35,630.56 433.66,630.55 433.96,630.54 434.27,630.53 434.57,630.52 434.88,630.51 435.18,630.5 435.49,630.49 435.79,630.48 436.1,630.47 436.4,630.46 436.71,630.45 437.01,630.44 437.32,630.43 437.62,630.42 437.93,630.4 438.23,630.39 438.54,630.38 438.84,630.37 439.15,630.36 439.45,630.34 439.76,630.33 440.06,630.32 440.37,630.3 440.67,630.29 440.98,630.28 441.28,630.26 441.59,630.25 441.89,630.24 442.2,630.22 442.5,630.21 442.81,630.19 443.11,630.18 443.42,630.16 443.72,630.15 444.03,630.13 444.33,630.11 444.64,630.1 444.94,630.08 445.25,630.06 445.55,630.05 445.86,630.03 446.16,630.01 446.47,629.99 446.77,629.97 447.08,629.95 447.38,629.93 447.69,629.91 448,629.89 448.3,629.86 448.6,629.84 448.91,629.82 449.21,629.79 449.52,629.77 449.82,629.74 450.13,629.72 450.43,629.69 450.74,629.66 451.04,629.64 451.35,629.61 451.65,629.58 451.96,629.55 452.26,629.52 452.57,629.49 452.88,629.46 453.18,629.43 453.48,629.4 453.79,629.37 454.09,629.33 454.4,629.3 454.7,629.27 455.01,629.23 455.31,629.2 455.62,629.16 455.92,629.13 456.23,629.09 456.53,629.05 456.84,629.01 457.14,628.98 457.45,628.94 457.75,628.9 458.06,628.86 458.37,628.82 458.67,628.78 458.97,628.73 459.28,628.69 459.58,628.65 459.89,628.6 460.19,628.55 460.5,628.5 460.8,628.44 461.11,628.39 461.41,628.33 461.72,628.26 462.02,628.2 462.33,628.13 462.63,628.07 462.94,628 463.25,627.93 463.55,627.85 463.85,627.78 464.16,627.7 464.46,627.62 464.77,627.54 465.07,627.46 465.38,627.38 465.68,627.3 465.99,627.22 466.29,627.13 466.6,627.05 466.9,626.96 467.21,626.87 467.51,626.79 467.82,626.7 468.12,626.61 468.43,626.52 468.73,626.43 469.04,626.34 469.34,626.25 469.65,626.16 469.95,626.08 470.26,625.99 470.56,625.9 470.87,625.81 471.17,625.72 471.48,625.64 471.78,625.55 472.09,625.46 472.39,625.38 472.7,625.29 473,625.21 473.31,625.13 473.62,625.05 473.92,624.97 474.22,624.89 474.53,624.81 474.83,624.72 475.14,624.64 475.44,624.55 475.75,624.47 476.05,624.38 476.36,624.29 476.66,624.2 476.97,624.11 477.27,624.02 477.58,623.93 477.88,623.84 478.19,623.75 478.5,623.66 478.8,623.56 479.1,623.47 479.41,623.38 479.71,623.29 480.02,623.2 480.32,623.11 480.63,623.01 480.93,622.92 481.24,622.83 481.54,622.75 481.85,622.66 482.15,622.57 482.46,622.48 482.76,622.4 483.07,622.31 483.38,622.23 483.68,622.15 483.98,622.07 484.29,621.99 484.59,621.91 484.9,621.83 485.2,621.76 485.51,621.68 485.81,621.61 486.12,621.54 486.42,621.48 486.73,621.41 487.03,621.35 487.34,621.29 487.64,621.23 487.95,621.17 488.25,621.12 488.56,621.07 488.87,621.02 489.17,620.97 489.47,620.91 489.78,620.86 490.08,620.81 490.39,620.76 490.69,620.71 491,620.65 491.3,620.6 491.61,620.55 491.91,620.5 492.22,620.45 492.52,620.4 492.83,620.35 493.13,620.3 493.44,620.25 493.75,620.2 494.05,620.16 494.35,620.11 494.66,620.06 494.96,620.02 495.27,619.98 495.57,619.94 495.88,619.9 496.18,619.86 496.49,619.82 496.79,619.79 497.1,619.75 497.4,619.72 497.71,619.69 498.01,619.66 498.32,619.64 498.62,619.61 498.93,619.59 499.23,619.57 499.54,619.55 499.84,619.54 500.15,619.52 500.45,619.51 500.76,619.51 501.06,619.5 501.37,619.5 501.67,619.5 501.98,619.5 502.28,619.5 502.59,619.51 502.89,619.52 503.2,619.52 503.5,619.53 503.81,619.55 504.12,619.56 504.42,619.57 504.72,619.59 505.03,619.61 505.33,619.63 505.64,619.65 505.94,619.67 506.25,619.69 506.55,619.72 506.86,619.74 507.16,619.77 507.47,619.8 507.77,619.82 508.08,619.85 508.38,619.88 508.69,619.92 509,619.95 509.3,619.98 509.6,620.02 509.91,620.05 510.21,620.09 510.52,620.12 510.82,620.16 511.13,620.2 511.43,620.24 511.74,620.28 512.04,620.32 512.35,620.36 512.65,620.4 512.96,620.44 513.26,620.48 513.57,620.52 513.88,620.57 514.18,620.61 514.49,620.65 514.79,620.7 515.1,620.74 515.4,620.78 515.7,620.83 516.01,620.87 516.31,620.92 516.62,620.96 516.92,621 517.23,621.05 517.53,621.09 517.84,621.14 518.14,621.18 518.45,621.24 518.75,621.29 519.06,621.35 519.37,621.41 519.67,621.47 519.98,621.54 520.28,621.6 520.59,621.67 520.89,621.74 521.19,621.82 521.5,621.89 521.8,621.97 522.11,622.05 522.41,622.13 522.72,622.21 523.02,622.29 523.33,622.37 523.63,622.45 523.94,622.53 524.25,622.62 524.55,622.7 524.86,622.78 525.16,622.87 525.46,622.95 525.77,623.03 526.07,623.11 526.38,623.19 526.68,623.27 526.99,623.35 527.29,623.43 527.6,623.51 527.9,623.58 528.21,623.65 528.51,623.73 528.82,623.79 529.12,623.86 529.43,623.93 529.74,623.99 530.04,624.06 530.35,624.12 530.65,624.18 530.95,624.25 531.26,624.31 531.56,624.37 531.87,624.44 532.17,624.5 532.48,624.56 532.78,624.63 533.09,624.69 533.39,624.75 533.7,624.82 534,624.88 534.31,624.94 534.62,625 534.92,625.06 535.22,625.12 535.53,625.18 535.84,625.24 536.14,625.3 536.44,625.36 536.75,625.42 537.05,625.48 537.36,625.54 537.66,625.6 537.97,625.66 538.27,625.72 538.58,625.77 538.88,625.83 539.19,625.89 539.5,625.94 539.8,626 540.11,626.05 540.41,626.11 540.71,626.16 541.02,626.22 541.32,626.27 541.63,626.32 541.93,626.38 542.24,626.43 542.54,626.48 542.85,626.53 543.15,626.58 543.46,626.63 543.76,626.68 544.07,626.73 544.38,626.78 544.68,626.82 544.99,626.87 545.29,626.92 545.6,626.96 545.9,627.01 546.2,627.05 546.51,627.09 546.81,627.14 547.12,627.18 547.42,627.23 547.73,627.27 548.03,627.31 548.34,627.35 548.64,627.4 548.95,627.44 549.25,627.48 549.56,627.52 549.87,627.56 550.17,627.61 550.47,627.65 550.78,627.69 551.09,627.73 551.39,627.77 551.69,627.8 552,627.84 552.3,627.88 552.61,627.92 552.91,627.96 553.22,628 553.52,628.03 553.83,628.07 554.13,628.11 554.44,628.14 554.75,628.18 555.05,628.21 555.36,628.25 555.66,628.28 555.96,628.31 556.27,628.35 556.57,628.38 556.88,628.41 557.18,628.44 557.49,628.47 557.79,628.5 558.1,628.53 558.4,628.56 558.71,628.59 559.01,628.62 559.32,628.65 559.62,628.67 559.93,628.7 560.24,628.73 560.54,628.75 560.85,628.78 561.15,628.8 561.45,628.83 561.76,628.85 562.06,628.88 562.37,628.9 562.67,628.93 562.98,628.95 563.28,628.98 563.59,629 563.89,629.02 564.2,629.05 564.5,629.07 564.81,629.09 565.12,629.12 565.42,629.14 565.72,629.16 566.03,629.18 566.34,629.21 566.64,629.23 566.94,629.25 567.25,629.27 567.55,629.29 567.86,629.31 568.16,629.33 568.47,629.35 568.77,629.37 569.08,629.39 569.38,629.41 569.69,629.43 570,629.45 570.3,629.46 570.61,629.48 570.91,629.5 571.21,629.52 571.52,629.53 571.82,629.55 572.13,629.57 572.43,629.58 572.74,629.6 573.04,629.61 573.35,629.63 573.65,629.64 573.96,629.65 574.26,629.67 574.57,629.68 574.88,629.69 575.18,629.71 575.49,629.72 575.79,629.73 576.1,629.74 576.4,629.76 576.7,629.77 577.01,629.78 577.31,629.79 577.62,629.8 577.92,629.81 578.23,629.82 578.53,629.83 578.84,629.84 579.14,629.86 579.45,629.87 579.75,629.88 580.06,629.89 580.37,629.9 580.67,629.91 580.97,629.92 581.28,629.93 581.59,629.93 581.89,629.94 582.19,629.95 582.5,629.96 582.8,629.97 583.11,629.98 583.41,629.99 583.72,630 584.02,630.01 584.33,630.02 584.63,630.02 584.94,630.03 585.25,630.04 585.55,630.05 585.86,630.06 586.16,630.06 586.46,630.07 586.77,630.08 587.07,630.09 587.38,630.09 587.68,630.1 587.99,630.11 588.29,630.11 588.6,630.12 588.9,630.13 589.21,630.14 589.51,630.14 589.82,630.15 590.12,630.16 590.43,630.16 590.74,630.17 591.04,630.17 591.35,630.18 591.65,630.19 591.95,630.19 592.26,630.2 592.56,630.2 592.87,630.21 593.17,630.22 593.48,630.22 593.78,630.23 594.09,630.23 594.39,630.24 594.7,630.24 595,630.25 595.31,630.26 595.62,630.26 595.92,630.27 596.22,630.27 596.53,630.28 596.84,630.28 597.14,630.29 597.44,630.29 597.75,630.3 598.05,630.3 598.36,630.31 598.66,630.31 598.97,630.32 599.27,630.32 599.58,630.33 599.88,630.33 600.19,630.34 600.5,630.34 600.8,630.34 601.11,630.35 601.41,630.35 601.71,630.36 602.02,630.36 602.32,630.37 602.63,630.37 602.93,630.37 603.24,630.38 603.54,630.38 603.85,630.38 604.15,630.39 604.46,630.39 604.76,630.39 605.07,630.4 605.38,630.4 605.68,630.4 605.99,630.41 606.29,630.41 606.6,630.41 606.9,630.41" fill="none" stroke="#2ca02c" stroke-width="1.8"/>
<polyline points="393.4,631.03 393.7,631.03 394.01,631 394.31,630.97 394.62,630.92 394.92,630.86 395.23,630.79 395.53,630.69 395.84,630.53 396.14,630.29 396.45,629.99 396.75,629.5 397.06,628.42 397.36,626.79 397.67,624.72 397.97,622.32 398.28,619.69 398.58,616.23 398.89,611.46 399.19,605.7 399.5,599.25 399.8,592.41 400.11,585.5 400.41,578.82 400.72,572.13 401.02,564.67 401.33,556.84 401.63,549.07 401.94,541.8 402.25,535.45 402.55,530.46 402.85,526.24 403.16,522.08 403.46,518.15 403.77,514.65 404.07,511.78 404.38,509.71 404.69,508.65 404.99,508.69 405.29,509.5 405.6,510.88 405.9,512.66 406.21,514.7 406.51,516.83 406.82,519.51 407.12,523.1 407.43,527.24 407.73,531.56 408.04,535.71 408.34,539.35 408.65,542.74 408.95,546.11 409.26,549.44 409.56,552.72 409.87,555.95 410.17,559.11 410.48,562.19 410.78,565.18 411.09,568.08 411.39,570.87 411.7,573.54 412,576.08 412.31,578.49 412.61,580.86 412.92,583.2 413.22,585.49 413.53,587.73 413.83,589.9 414.14,591.99 414.44,593.99 414.75,595.89 415.05,597.67 415.36,599.34 415.66,600.86 415.97,602.24 416.27,603.49 416.58,604.71 416.88,605.9 417.19,607.06 417.5,608.2 417.8,609.31 418.1,610.4 418.41,611.45 418.71,612.47 419.02,613.46 419.32,614.42 419.63,615.35 419.94,616.24 420.24,617.1 420.54,617.92 420.85,618.71 421.15,619.45 421.46,620.16 421.76,620.82 422.07,621.45 422.38,622.03 422.68,622.57 422.98,623.07 423.29,623.51 423.59,623.92 423.9,624.28 424.2,624.62 424.51,624.94 424.81,625.26 425.12,625.56 425.42,625.84 425.73,626.12 426.03,626.38 426.34,626.63 426.64,626.87 426.95,627.1 427.25,627.31 427.56,627.52 427.86,627.71 428.17,627.89 428.47,628.07 428.78,628.23 429.08,628.38 429.39,628.52 429.69,628.66 430,628.78 430.3,628.9 430.61,629.01 430.91,629.12 431.22,629.23 431.52,629.33 431.83,629.43 432.13,629.53 432.44,629.62 432.75,629.71 433.05,629.79 433.35,629.86 433.66,629.94 433.96,630 434.27,630.06 434.57,630.12 434.88,630.16 435.18,630.2 435.49,630.24 435.79,630.27 436.1,630.3 436.4,630.33 436.71,630.36 437.01,630.38 437.32,630.41 437.62,630.44 437.93,630.46 438.23,630.49 438.54,630.51 438.84,630.54 439.15,630.56 439.45,630.58 439.76,630.61 440.06,630.63 440.37,630.65 440.67,630.67 440.98,630.69 441.28,630.71 441.59,630.72 441.89,630.74 442.2,630.76 442.5,630.77 442.81,630.79 443.11,630.8 443.42,630.82 443.72,630.83 444.03,630.85 444.33,630.86 444.64,630.87 444.94,630.88 445.25,630.89 445.55,630.9 445.86,630.91 446.16,630.92 446.47,630.92 446.77,630.93 447.08,630.94 447.38,630.94 447.69,630.95 448,630.95 448.3,630.95 448.6,630.96 448.91,630.96 449.21,630.96 449.52,630.96 449.82,630.97 450.13,630.97 450.43,630.97 450.74,630.97 451.04,630.98 451.35,630.98 451.65,630.98 451.96,630.98 452.26,630.99 452.57,630.99 452.88,630.99 453.18,630.99 453.48,631 453.79,631 454.09,631 454.4,631 454.7,631 455.01,631.01 455.31,631.01 455.62,631.01 455.92,631.01 456.23,631.01 456.53,631.01 456.84,631.02 457.14,631.02 457.45,631.02 457.75,631.02 458.06,631.02 458.37,631.02 458.67,631.03 458.97,631.03 459.28,631.03 459.58,631.03 459.89,631.03 460.19,631.03 460.5,631.03 460.8,631.03 461.11,631.03 461.41,631.04 461.72,631.04 462.02,631.04 462.33,631.04 462.63,631.04 462.94,631.04 463.25,631.04 463.55,631.04 463.85,631.04 464.16,631.04 464.46,631.04 464.77,631.04 465.07,631.04 465.38,631.04 465.68,631.04 465.99,631.04 466.29,631.04 466.6,631.04 466.9,631.04 467.21,631.04 467.51,631.04 467.82,631.04 468.12,631.04 468.43,631.04 468.73,631.04 469.04,631.04 469.34,631.04 469.65,631.04 469.95,631.04 470.26,631.04 470.56,631.04 470.87,631.04 471.17,631.04 471.48,631.04 471.78,631.04 472.09,631.05 472.39,631.05 472.7,631.05 473,631.05 473.31,631.05 473.62,631.05 473.92,631.05 474.22,631.05 474.53,631.05 474.83,631.05 475.14,631.05 475.44,631.05 475.75,631.05 476.05,631.05 476.36,631.05 476.66,631.05 476.97,631.05 477.27,631.05 477.58,631.05 477.88,631.05 478.19,631.05 478.5,631.05 478.8,631.05 479.1,631.05 479.41,631.05 479.71,631.05 480.02,631.05 480.32,631.05 480.63,631.05 480.93,631.05 481.24,631.05 481.54,631.05 481.85,631.05 482.15,631.05 482.46,631.05 482.76,631.05 483.07,631.05 483.38,631.05 483.68,631.05 483.98,631.05 484.29,631.05 484.59,631.05 484.9,631.05 485.2,631.05 485.51,631.05 485.81,631.05 486.12,631.05 486.42,631.05 486.73,631.05 487.03,631.05 487.34,631.05 487.64,631.05 487.95,631.05 488.25,631.05 488.56,631.05 488.87,631.05 489.17,631.05 489.47,631.05 489.78,631.05 490.08,631.05 490.39,631.05 490.69,631.05 491,631.05 491.3,631.05 491.61,631.05 491.91,631.05 492.22,631.05 492.52,631.05 492.83,631.05 493.13,631.05 493.44,631.05 493.75,631.05 494.05,631.05 494.35,631.05 494.66,631.05 494.96,631.05 495.27,631.05 495.57,631.05 495.88,631.05 496.18,631.05 496.49,631.05 496.79,631.05 497.1,631.05 497.4,631.05 497.71,631.05 498.01,631.05 498.32,631.05 498.62,631.05 498.93,631.05 499.23,631.05 499.54,631.05 499.84,631.05 500.15,631.05 500.45,631.05 500.76,631.05 501.06,631.05 501.37,631.05 501.67,631.05 501.98,631.05 502.28,631.05 502.59,631.05 502.89,631.05 503.2,631.05 503.5,631.05 503.81,631.05 504.12,631.05 504.42,631.05 504.72,631.05 505.03,631.05 505.33,631.05 505.64,631.05 505.94,631.05 506.25,631.05 506.55,631.05 506.86,631.05 507.16,631.05 507.47,631.05 507.77,631.05 508.08,631.05 508.38,631.05 508.69,631.05 509,631.05 509.3,631.05 509.6,631.05 509.91,631.05 510.21,631.05 510.52,631.05 510.82,631.05 511.13,631.05 511.43,631.05 511.74,631.05 512.04,631.05 512.35,631.05 512.65,631.05 512.96,631.05 513.26,631.05 513.57,631.05 513.88,631.05 514.18,631.05 514.49,631.05 514.79,631.05 515.1,631.05 515.4,631.05 515.7,631.05 516.01,631.05 516.31,631.05 516.62,631.05 516.92,631.05 517.23,631.05 517.53,631.05 517.84,631.05 518.14,631.05 518.45,631.05 518.75,631.05 519.06,631.05 519.37,631.05 519.67,631.05 519.98,631.05 520.28,631.05 520.59,631.05 520.89,631.05 521.19,631.05 521.5,631.05 521.8,631.05 522.11,631.05 522.41,631.05 522.72,631.05 523.02,631.05 523.33,631.05 523.63,631.05 523.94,631.05 524.25,631.05 524.55,631.05 524.86,631.05 525.16,631.05 525.46,631.05 525.77,631.05 526.07,631.05 526.38,631.05 526.68,631.05 526.99,631.05 527.29,631.05 527.6,631.05 527.9,631.05 528.21,631.05 528.51,631.05 528.82,631.05 529.12,631.05 529.43,631.05 529.74,631.05 530.04,631.05 530.35,631.05 530.65,631.05 530.95,631.05 531.26,631.05 531.56,631.05 531.87,631.05 532.17,631.05 532.48,631.05 532.78,631.05 533.09,631.05 533.39,631.05 533.7,631.05 534,631.05 534.31,631.05 534.62,631.05 534.92,631.05 535.22,631.05 535.53,631.05 535.84,631.05 536.14,631.05 536.44,631.05 536.75,631.05 537.05,631.05 537.36,631.05 537.66,631.05 537.97,631.05 538.27,631.05 538.58,631.05 538.88,631.05 539.19,631.05 539.5,631.05 539.8,631.05 540.11,631.05 540.41,631.05 540.71,631.05 541.02,631.05 541.32,631.05 541.63,631.05 541.93,631.05 542.24,631.05 542.54,631.05 542.85,631.05 543.15,631.05 543.46,631.05 543.76,631.05 544.07,631.05 544.38,631.05 544.68,631.05 544.99,631.05 545.29,631.05 545.6,631.05 545.9,631.05 546.2,631.05 546.51,631.05 546.81,631.05 547.12,631.05 547.42,631.05 547.73,631.05 548.03,631.05 548.34,631.05 548.64,631.05 548.95,631.05 549.25,631.05 549.56,631.05 549.87,631.05 550.17,631.05 550.47,631.05 550.78,631.05 551.09,631.05 551.39,631.05 551.69,631.05 552,631.05 552.3,631.05 552.61,631.05 552.91,631.05 553.22,631.05 553.52,631.05 553.83,631.05 554.13,631.05 554.44,631.05 554.75,631.05 555.05,631.05 555.36,631.05 555.66,631.05 555.96,631.05 556.27,631.05 556.57,631.05 556.88,631.05 557.18,631.05 557.49,631.05 557.79,631.05 558.1,631.05 558.4,631.05 558.71,631.05 559.01,631.05 559.32,631.05 559.62,631.05 559.93,631.05 560.24,631.05 560.54,631.05 560.85,631.05 561.15,631.05 561.45,631.05 561.76,631.05 562.06,631.05 562.37,631.05 562.67,631.05 562.98,631.05 563.28,631.05 563.59,631.05 563.89,631.05 564.2,631.05 564.5,631.05 564.81,631.05 565.12,631.05 565.42,631.05 565.72,631.05 566.03,631.05 566.34,631.05 566.64,631.05 566.94,631.05 567.25,631.05 567.55,631.05 567.86,631.05 568.16,631.05 568.47,631.05 568.77,631.05 569.08,631.05 569.38,631.05 569.69,631.05 570,631.05 570.3,631.05 570.61,631.05 570.91,631.05 571.21,631.05 571.52,631.05 571.82,631.05 572.13,631.05 572.43,631.05 572.74,631.05 573.04,631.05 573.35,631.05 573.65,631.05 573.96,631.05 574.26,631.05 574.57,631.05 574.88,631.05 575.18,631.05 575.49,631.05 575.79,631.05 576.1,631.05 576.4,631.05 576.7,631.05 577.01,631.05 577.31,631.05 577.62,631.05 577.92,631.05 578.23,631.05 578.53,631.05 578.84,631.05 579.14,631.05 579.45,631.05 579.75,631.05 580.06,631.05 580.37,631.05 580.67,631.05 580.97,631.05 581.28,631.05 581.59,631.05 581.89,631.05 582.19,631.05 582.5,631.05 582.8,631.05 583.11,631.05 583.41,631.05 583.72,631.05 584.02,631.05 584.33,631.05 584.63,631.05 584.94,631.05 585.25,631.05 585.55,631.05 585.86,631.05 586.16,631.05 586.46,631.05 586.77,631.05 587.07,631.05 587.38,631.05 587.68,631.05 587.99,631.05 588.29,631.05 588.6,631.05 588.9,631.05 589.21,631.05 589.51,631.05 589.82,631.05 590.12,631.05 590.43,631.05 590.74,631.05 591.04,631.05 591.35,631.05 591.65,631.05 591.95,631.05 592.26,631.05 592.56,631.05 592.87,631.05 593.17,631.05 593.48,631.05 593.78,631.05 594.09,631.05 594.39,631.05 594.7,631.05 595,631.05 595.31,631.05 595.62,631.05 595.92,631.05 596.22,631.05 596.53,631.05 596.84,631.05 597.14,631.05 597.44,631.05 597.75,631.05 598.05,631.05 598.36,631.05 598.66,631.05 598.97,631.05 599.27,631.05 599.58,631.05 599.88,631.05 600.19,631.05 600.5,631.05 600.8,631.05 601.11,631.05 601.41,631.05 601.71,631.05 602.02,631.05 602.32,631.05 602.63,631.05 602.93,631.05 603.24,631.05 603.54,631.05 603.85,631.05 604.15,631.05 604.46,631.05 604.76,631.05 605.07,631.05 605.38,631.05 605.68,631.05 605.99,631.05 606.29,631.05 606.6,631.05 606.9,631.05" fill="none" stroke="#f00" stroke-width="1.8"/>
<polyline points="393.4,631.45 606.9,631.45" fill="none" stroke="#000" stroke-width="1.6"/>
<rect x="485.2" y="504.4" width="130.2" height="42.4" fill="#fff" stroke="#222" stroke-width="1.1"/>
<line x1="488.2" y1="513.8" x2="506.9" y2="513.8" stroke="#f00" stroke-width="1.9"/>
<text x="597.3" y="517.6" font-size="10.85" font-weight="bold" text-anchor="end" fill="#111">0% Protected</text>
<line x1="488.2" y1="526.7" x2="506.9" y2="526.7" stroke="#2ca02c" stroke-width="1.9"/>
<text x="597.3" y="530.5" font-size="10.85" font-weight="bold" text-anchor="end" fill="#111">75% Protected</text>
<line x1="488.2" y1="538.6" x2="506.9" y2="538.6" stroke="#000" stroke-width="1.9"/>
<text x="597.3" y="542.4" font-size="10.85" font-weight="bold" text-anchor="end" fill="#111">100% Protected</text>
</svg></body></html>
